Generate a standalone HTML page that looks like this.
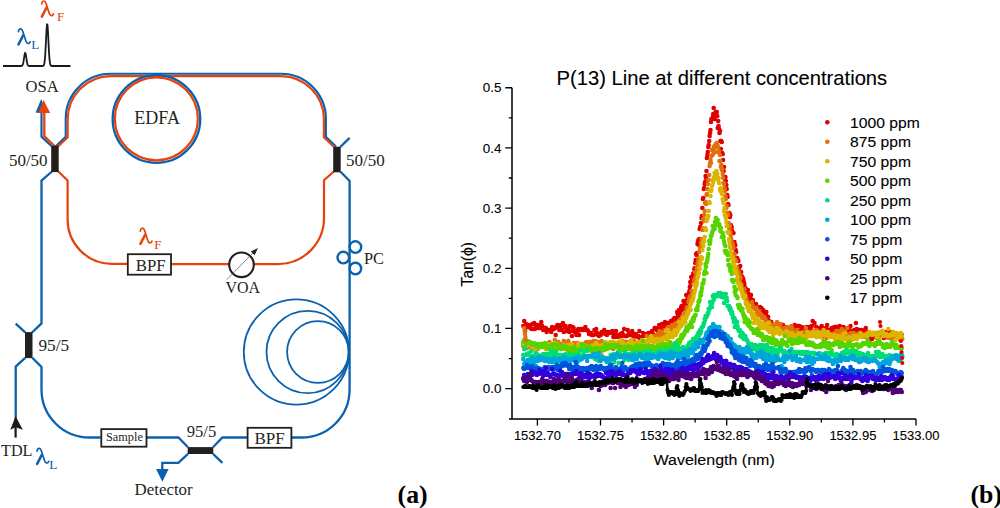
<!DOCTYPE html>
<html><head><meta charset="utf-8"><style>
html,body{margin:0;padding:0;background:#fff;width:1000px;height:508px;overflow:hidden}
svg{display:block}
.s{font-family:"Liberation Serif",serif;fill:#231f1c;stroke:none}
.a{font-family:"Liberation Sans",sans-serif;fill:#000;stroke:#000;stroke-width:0.1px}
</style></head><body>
<svg width="1000" height="508" viewBox="0 0 1000 508">

<polyline points="3.00,66.00 3.50,66.00 4.00,66.00 4.50,66.00 5.00,66.00 5.50,66.00 6.00,66.00 6.50,66.00 7.00,66.00 7.50,66.00 8.00,66.00 8.50,66.00 9.00,66.00 9.50,66.00 10.00,66.00 10.50,66.00 11.00,66.00 11.50,66.00 12.00,66.00 12.50,66.00 13.00,66.00 13.50,66.00 14.00,66.00 14.50,66.00 15.00,66.00 15.50,66.00 16.00,66.00 16.50,66.00 17.00,66.00 17.50,66.00 18.00,66.00 18.50,66.00 19.00,66.00 19.50,66.00 20.00,66.00 20.50,66.00 21.00,65.99 21.50,65.94 22.00,65.76 22.50,65.23 23.00,64.01 23.50,61.73 24.00,58.48 24.50,55.10 25.00,53.00 25.50,53.26 26.00,55.72 26.50,59.18 27.00,62.28 27.50,64.33 28.00,65.38 28.50,65.81 29.00,65.95 29.50,65.99 30.00,66.00 30.50,66.00 31.00,66.00 31.50,66.00 32.00,66.00 32.50,66.00 33.00,66.00 33.50,66.00 34.00,66.00 34.50,66.00 35.00,66.00 35.50,66.00 36.00,66.00 36.50,66.00 37.00,66.00 37.50,66.00 38.00,66.00 38.50,66.00 39.00,66.00 39.50,66.00 40.00,66.00 40.50,66.00 41.00,66.00 41.50,66.00 42.00,66.00 42.50,65.98 43.00,65.91 43.50,65.63 44.00,64.77 44.50,62.60 45.00,58.06 45.50,50.40 46.00,40.24 46.50,30.21 47.00,24.18 47.50,24.90 48.00,32.02 48.50,42.37 49.00,52.18 49.50,59.20 50.00,63.19 50.50,65.02 51.00,65.71 51.50,65.93 52.00,65.99 52.50,66.00 53.00,66.00 53.50,66.00 54.00,66.00 54.50,66.00 55.00,66.00 55.50,66.00 56.00,66.00 56.50,66.00 57.00,66.00 57.50,66.00 58.00,66.00 58.50,66.00 59.00,66.00 59.50,66.00 60.00,66.00 60.50,66.00 61.00,66.00 61.50,66.00 62.00,66.00 62.50,66.00 63.00,66.00 63.50,66.00 64.00,66.00 64.50,66.00 65.00,66.00 65.50,66.00 66.00,66.00 66.50,66.00 67.00,66.00 67.50,66.00 68.00,66.00 68.50,66.00 69.00,66.00 69.50,66.00 70.00,66.00 70.50,66.00" fill="none" stroke="#1a1a1a" stroke-width="1.8" stroke-linejoin="round"/>
<path d="M55.5,146.5 L65.7,136.8 V118.6 A44.8,44.8 0 0 1 110.5,73.8 H281.1 A44.8,44.8 0 0 1 325.9,118.6 V136.8 L336,146.5" fill="none" stroke="#0a62ae" stroke-width="2.1"/>
<path d="M58,146.5 L67.7,137.2 V119.3 A43.2,43.2 0 0 1 110.9,76.1 H280.7 A43.2,43.2 0 0 1 323.9,119.3 V137.2 L333.8,146.8" fill="none" stroke="#e6420c" stroke-width="2.1"/>
<circle cx="156.45" cy="119" r="43.8" fill="none" stroke="#0a62ae" stroke-width="2.3"/>
<circle cx="156.35" cy="118.8" r="41.5" fill="none" stroke="#e6420c" stroke-width="2.2"/>
<path d="M52,146.5 L41.5,136.7 V110" fill="none" stroke="#0a62ae" stroke-width="2.2"/>
<path d="M41.2,99.1 L35.5,112.8 L47,112.8 Z" fill="#0a62ae"/>
<path d="M55,146.5 L44.3,136.2 V110" fill="none" stroke="#e6420c" stroke-width="2.3"/>
<path d="M43.6,100 L38.1,113 L50.2,113 Z" fill="#e6420c"/>
<path d="M52.5,171 L41.5,180.6 V323.4 L32,332.5" fill="none" stroke="#0a62ae" stroke-width="2.3"/>
<path d="M57.8,171 L67.6,180.4 V219.6 A44.2,44.2 0 0 0 111.8,263.8 H128" fill="none" stroke="#e6420c" stroke-width="2.2"/>
<path d="M171,264.1 H230 M253,264.1 H278 A46,46 0 0 0 324,218.1 V180.2 L333.8,171.5" fill="none" stroke="#e6420c" stroke-width="2.2"/>
<path d="M340.3,147 L349.6,137.9" fill="none" stroke="#0a62ae" stroke-width="2.3"/>
<path d="M340.5,171.8 L349.6,181 V389.5 A48,48 0 0 1 301.6,437.5 H292" fill="none" stroke="#0a62ae" stroke-width="2.3"/>
<path d="M247,437.5 H222.4 L213,447.2 M188,447.2 L178.4,437.5 H147 M100.6,437.5 H89.5 A48,48 0 0 1 41.5,389.5 V366.9 L32.3,357.8" fill="none" stroke="#0a62ae" stroke-width="2.3"/>
<path d="M188,453.8 L178.4,462.8 H162.3 V470 M213,453.8 L222.4,462.8" fill="none" stroke="#0a62ae" stroke-width="2.3"/>
<path d="M156,468.9 L168.6,468.9 L162.4,481.8 Z" fill="#0a62ae"/>
<path d="M25.2,332.3 L15.7,323.6 M25.2,357.8 L15.7,366.6 V420" fill="none" stroke="#0a62ae" stroke-width="2.3"/>
<path d="M15.6,416.3 L10.3,429.8 L15.6,427.2 L22.8,429.8 Z" fill="#1a1a1a"/>
<path d="M15.6,426 V437.6" stroke="#1a1a1a" stroke-width="2.2"/>
<circle cx="355.4" cy="247.1" r="5.8" fill="none" stroke="#0a62ae" stroke-width="2.4"/>
<circle cx="343.3" cy="257.6" r="5.8" fill="none" stroke="#0a62ae" stroke-width="2.4"/>
<circle cx="355.4" cy="268.5" r="5.8" fill="none" stroke="#0a62ae" stroke-width="2.4"/>
<circle cx="296.4" cy="352" r="52.6" fill="none" stroke="#0a62ae" stroke-width="1.8"/>
<circle cx="307.6" cy="352" r="41.1" fill="none" stroke="#0a62ae" stroke-width="1.8"/>
<circle cx="317.9" cy="352" r="30.8" fill="none" stroke="#0a62ae" stroke-width="1.8"/>
<rect x="51.2" y="145.8" width="7.5" height="26.3" fill="#231f1c"/>
<rect x="333.2" y="146.7" width="7.5" height="25.6" fill="#231f1c"/>
<rect x="25" y="332.1" width="7.5" height="26" fill="#231f1c"/>
<rect x="187.7" y="447.1" width="25.6" height="6.9" fill="#231f1c"/>
<rect x="127.8" y="254.2" width="43.2" height="20.5" fill="#fff" stroke="#231f1c" stroke-width="1.8"/>
<rect x="247.6" y="427.8" width="43.8" height="20" fill="#fff" stroke="#231f1c" stroke-width="1.8"/>
<rect x="101.3" y="429.1" width="45.2" height="17.6" fill="#fff" stroke="#231f1c" stroke-width="1.8"/>
<circle cx="241.5" cy="264.8" r="12.3" fill="#fff" stroke="#231f1c" stroke-width="2.1"/>
<path d="M226.8,279.6 L254.5,251.3" stroke="#555" stroke-width="0.7"/>
<path d="M258,248 L250.8,251.6 L254.6,255.2 Z" fill="#231f1c"/>
<text class="s" x="25.60" y="91.90" font-size="16.6">OSA</text>
<text class="s" x="134.30" y="124.30" font-size="18">EDFA</text>
<text class="s" x="8.90" y="165.60" font-size="17">50/50</text>
<text class="s" x="346.00" y="166.00" font-size="17">50/50</text>
<text class="s" x="135.70" y="270.70" font-size="16.8">BPF</text>
<text class="s" x="254.40" y="443.90" font-size="17">BPF</text>
<text class="s" x="225.50" y="292.80" font-size="16">VOA</text>
<text class="s" x="364.00" y="264.00" font-size="16.4">PC</text>
<text class="s" x="38.40" y="351.00" font-size="17.3">95/5</text>
<text class="s" x="186.70" y="436.90" font-size="16.6">95/5</text>
<text class="s" x="106.00" y="440.80" font-size="12.3">Sample</text>
<text class="s" x="1.00" y="456.10" font-size="16.2">TDL</text>
<text class="s" x="134.50" y="494.80" font-size="16.9">Detector</text>
<text class="s" x="397.60" y="502.90" font-size="25.8" font-weight="bold" style="fill:#000">(a)</text>
<text class="s" x="970.50" y="502.90" font-size="25.8" font-weight="bold" style="fill:#000">(b)</text>
<g transform="translate(41.20,17.20)" fill="none" stroke="#e6420c" stroke-linecap="round">
<path d="M0.5,-13.3 C0.9,-16.6 3.6,-17.6 4.9,-13.6 L7.9,-4.2 C8.9,-1 10.9,-0.6 12.2,-3.2" stroke-width="1.7"/>
<path d="M5.3,-9.6 L0.6,-0.6" stroke-width="2.5"/>
</g>
<text class="s" x="57.00" y="20.70" font-size="13.2" style="fill:#e6420c">F</text>
<g transform="translate(17.90,45.00)" fill="none" stroke="#0a62ae" stroke-linecap="round">
<path d="M0.5,-13.3 C0.9,-16.6 3.6,-17.6 4.9,-13.6 L7.9,-4.2 C8.9,-1 10.9,-0.6 12.2,-3.2" stroke-width="1.7"/>
<path d="M5.3,-9.6 L0.6,-0.6" stroke-width="2.5"/>
</g>
<text class="s" x="31.20" y="48.80" font-size="13.2" style="fill:#0a62ae">L</text>
<g transform="translate(139.80,244.40)" fill="none" stroke="#e6420c" stroke-linecap="round">
<path d="M0.5,-13.3 C0.9,-16.6 3.6,-17.6 4.9,-13.6 L7.9,-4.2 C8.9,-1 10.9,-0.6 12.2,-3.2" stroke-width="1.7"/>
<path d="M5.3,-9.6 L0.6,-0.6" stroke-width="2.5"/>
</g>
<text class="s" x="154.20" y="248.70" font-size="13.2" style="fill:#e6420c">F</text>
<g transform="translate(36.50,464.50)" fill="none" stroke="#0a62ae" stroke-linecap="round">
<path d="M0.5,-13.3 C0.9,-16.6 3.6,-17.6 4.9,-13.6 L7.9,-4.2 C8.9,-1 10.9,-0.6 12.2,-3.2" stroke-width="1.7"/>
<path d="M5.3,-9.6 L0.6,-0.6" stroke-width="2.5"/>
</g>
<text class="s" x="49.20" y="468.60" font-size="13.2" style="fill:#0a62ae">L</text>
<path d="M512,87.7 V419 M509,419 H916" fill="none" stroke="#000" stroke-width="1.5"/>
<path d="M505.3,388.65 H512 M505.3,328.47 H512 M505.3,268.29 H512 M505.3,208.11 H512 M505.3,147.93 H512 M505.3,87.75 H512 M508.8,358.56 H512 M508.8,298.38 H512 M508.8,238.20 H512 M508.8,178.02 H512 M508.8,117.84 H512 M537.40,419 V425.6 M600.50,419 V425.6 M663.60,419 V425.6 M726.70,419 V425.6 M789.80,419 V425.6 M852.90,419 V425.6 M916.00,419 V425.6 M568.95,419 V422.4 M632.05,419 V422.4 M695.15,419 V422.4 M758.25,419 V422.4 M821.35,419 V422.4 M884.45,419 V422.4" fill="none" stroke="#000" stroke-width="1.3"/>
<text class="a" x="501.40" y="393.25" font-size="13.4" text-anchor="end">0.0</text>
<text class="a" x="501.40" y="333.07" font-size="13.4" text-anchor="end">0.1</text>
<text class="a" x="501.40" y="272.89" font-size="13.4" text-anchor="end">0.2</text>
<text class="a" x="501.40" y="212.71" font-size="13.4" text-anchor="end">0.3</text>
<text class="a" x="501.40" y="152.53" font-size="13.4" text-anchor="end">0.4</text>
<text class="a" x="501.40" y="92.35" font-size="13.4" text-anchor="end">0.5</text>
<text class="a" x="537.40" y="440.40" font-size="13" text-anchor="middle">1532.70</text>
<text class="a" x="600.50" y="440.40" font-size="13" text-anchor="middle">1532.75</text>
<text class="a" x="663.60" y="440.40" font-size="13" text-anchor="middle">1532.80</text>
<text class="a" x="726.70" y="440.40" font-size="13" text-anchor="middle">1532.85</text>
<text class="a" x="789.80" y="440.40" font-size="13" text-anchor="middle">1532.90</text>
<text class="a" x="852.90" y="440.40" font-size="13" text-anchor="middle">1532.95</text>
<text class="a" x="916.00" y="440.40" font-size="13" text-anchor="middle">1533.00</text>
<text class="a" transform="translate(653.50,464.80) scale(1.061,1)" font-size="15.1">Wavelength (nm)</text>
<text class="a" x="556.50" y="84.90" font-size="20.2">P(13) Line at different concentrations</text>
<text class="a" transform="translate(472.70,264.20) rotate(-90)" font-size="15.7" text-anchor="middle">Tan(&#981;)</text>
<path d="M523.3 326h0M524.2 321h0M525.1 331h0M526.0 324h0M526.9 327h0M527.8 327h0M528.7 325h0M529.6 326h0M530.5 328h0M531.4 329h0M532.3 324h0M533.2 329h0M534.1 323h0M535.0 329h0M535.9 327h0M536.8 325h0M537.7 325h0M538.6 328h0M539.5 328h0M540.4 326h0M541.3 322h0M542.2 326h0M543.1 330h0M544.0 328h0M544.9 328h0M545.8 328h0M546.7 332h0M547.6 330h0M548.5 330h0M549.4 330h0M550.3 330h0M551.2 332h0M552.1 327h0M553.0 328h0M553.9 329h0M554.8 328h0M555.7 335h0M556.6 326h0M557.5 325h0M558.4 328h0M559.3 330h0M560.2 327h0M561.1 325h0M562.0 330h0M562.9 323h0M563.8 332h0M564.7 327h0M565.6 326h0M566.5 331h0M567.4 330h0M568.3 329h0M569.2 332h0M570.1 326h0M571.0 331h0M571.9 336h0M572.8 327h0M573.7 328h0M574.6 332h0M575.5 331h0M576.4 335h0M577.3 333h0M578.2 329h0M579.1 335h0M580.0 330h0M580.9 329h0M581.8 330h0M582.7 329h0M583.6 330h0M584.5 329h0M585.4 327h0M586.3 330h0M587.2 330h0M588.1 331h0M589.0 334h0M589.9 333h0M590.8 333h0M591.7 335h0M592.6 335h0M593.5 335h0M594.4 330h0M595.3 334h0M596.2 329h0M597.1 333h0M598.0 335h0M598.9 336h0M599.8 334h0M600.7 335h0M601.6 332h0M602.5 332h0M603.4 333h0M604.3 330h0M605.2 334h0M606.1 334h0M607.0 335h0M607.9 332h0M608.8 333h0M609.7 332h0M610.6 333h0M611.5 332h0M612.4 331h0M613.3 337h0M614.2 335h0M615.1 337h0M616.0 331h0M616.9 335h0M617.8 337h0M618.7 336h0M619.6 335h0M620.5 334h0M621.4 336h0M622.3 333h0M623.2 335h0M624.1 329h0M625.0 336h0M625.9 336h0M626.8 336h0M627.7 330h0M628.6 334h0M629.5 335h0M630.4 334h0M631.3 333h0M632.2 331h0M633.1 336h0M634.0 334h0M634.9 336h0M635.8 334h0M636.7 336h0M637.6 337h0M638.5 336h0M639.4 331h0M640.3 339h0M641.2 338h0M642.1 337h0M643.0 333h0M643.9 334h0M644.8 334h0M645.7 336h0M646.6 334h0M647.5 336h0M648.4 333h0M649.3 338h0M650.2 333h0M651.1 334h0M652.0 331h0M652.9 334h0M653.8 338h0M654.7 328h0M655.1 328h0M655.6 329h0M656.0 329h0M656.5 330h0M656.9 330h0M657.4 328h0M657.8 329h0M658.3 333h0M658.7 329h0M659.2 325h0M659.6 327h0M660.1 330h0M660.5 331h0M661.0 329h0M661.4 330h0M661.9 324h0M662.3 326h0M662.8 325h0M663.2 325h0M663.7 324h0M664.1 332h0M664.6 325h0M665.0 322h0M665.5 329h0M665.9 327h0M666.4 327h0M666.8 326h0M667.3 324h0M667.7 326h0M668.2 323h0M668.6 326h0M669.1 324h0M669.5 325h0M670.0 325h0M670.4 326h0M670.9 321h0M671.3 329h0M671.8 325h0M672.2 323h0M672.7 322h0M673.1 324h0M673.6 319h0M674.0 319h0M674.5 318h0M674.9 324h0M675.4 320h0M675.8 322h0M676.3 322h0M676.7 320h0M677.2 312h0M677.6 314h0M678.1 316h0M678.5 314h0M679.0 310h0M679.4 311h0M679.9 313h0M680.3 317h0M680.8 311h0M681.2 307h0M681.7 306h0M682.1 308h0M682.6 309h0M683.0 309h0M683.5 301h0M683.9 305h0M684.4 301h0M684.8 302h0M685.3 303h0M685.7 307h0M686.2 295h0M686.6 302h0M687.1 304h0M687.5 298h0M688.0 295h0M688.5 295h0M688.9 293h0M689.4 291h0M689.8 287h0M690.3 282h0M690.7 285h0M691.2 277h0M691.6 281h0M692.1 279h0M692.5 279h0M693.0 274h0M693.4 276h0M693.9 273h0M694.3 269h0M694.8 268h0M695.2 263h0M695.7 260h0M696.1 254h0M696.6 255h0M697.0 253h0M697.5 244h0M697.9 242h0M698.4 240h0M698.8 245h0M699.3 239h0M699.7 229h0M700.2 227h0M700.6 228h0M701.1 223h0M701.5 218h0M702.0 216h0M702.4 208h0M702.9 199h0M703.3 198h0M703.8 189h0M704.2 188h0M704.7 184h0M705.1 182h0M705.6 176h0M706.0 178h0M706.5 171h0M706.9 158h0M707.4 155h0M707.8 152h0M708.3 147h0M708.7 145h0M709.2 141h0M709.6 136h0M710.1 133h0M710.5 130h0M711.0 122h0M711.4 119h0M711.9 119h0M712.3 119h0M712.8 117h0M713.2 114h0M713.7 108h0M714.1 114h0M714.6 119h0M715.0 113h0M715.5 115h0M715.9 112h0M716.4 113h0M716.8 112h0M717.3 116h0M717.7 128h0M718.2 121h0M718.6 126h0M719.1 129h0M719.5 133h0M720.0 131h0M720.4 141h0M720.9 149h0M721.3 141h0M721.8 142h0M722.2 153h0M722.7 154h0M723.1 160h0M723.6 171h0M724.0 167h0M724.5 178h0M724.9 179h0M725.4 177h0M725.8 181h0M726.3 185h0M726.7 189h0M727.2 195h0M727.6 197h0M728.1 204h0M728.5 205h0M729.0 213h0M729.4 213h0M729.9 217h0M730.3 215h0M730.8 225h0M731.2 227h0M731.7 227h0M732.1 231h0M732.6 233h0M733.0 233h0M733.5 233h0M733.9 244h0M734.4 242h0M734.8 246h0M735.3 245h0M735.7 250h0M736.2 252h0M736.6 258h0M737.1 258h0M737.5 259h0M738.0 261h0M738.4 261h0M738.9 269h0M739.3 267h0M739.8 273h0M740.2 266h0M740.7 276h0M741.1 272h0M741.6 276h0M742.0 278h0M742.5 284h0M742.9 278h0M743.4 280h0M743.8 282h0M744.3 284h0M744.7 287h0M745.2 289h0M745.6 289h0M746.1 289h0M746.5 290h0M747.0 293h0M747.4 291h0M747.9 290h0M748.3 295h0M748.8 294h0M749.2 300h0M749.7 298h0M750.1 302h0M750.6 298h0M751.0 295h0M751.5 301h0M751.9 303h0M752.4 309h0M752.8 300h0M753.3 303h0M753.7 305h0M754.2 304h0M754.6 307h0M755.1 306h0M755.5 316h0M756.0 304h0M756.4 309h0M756.9 308h0M757.3 308h0M757.8 308h0M758.2 312h0M758.7 311h0M759.1 314h0M759.6 309h0M760.0 307h0M760.5 310h0M760.9 312h0M761.4 308h0M761.8 315h0M762.3 313h0M762.7 315h0M763.2 310h0M763.6 315h0M764.1 313h0M764.5 312h0M765.0 316h0M765.4 316h0M765.9 317h0M766.3 312h0M766.8 316h0M767.2 318h0M767.7 317h0M768.1 317h0M768.6 322h0M769.0 321h0M769.5 322h0M769.9 322h0M770.4 325h0M770.8 330h0M771.3 322h0M771.7 324h0M772.2 326h0M772.6 328h0M773.1 332h0M773.5 327h0M774.0 328h0M774.4 327h0M774.9 326h0M775.8 325h0M776.7 325h0M777.6 324h0M778.5 332h0M779.4 329h0M780.3 326h0M781.2 330h0M782.1 328h0M783.0 325h0M783.9 331h0M784.8 327h0M785.7 329h0M786.6 332h0M787.5 331h0M788.4 329h0M789.3 331h0M790.2 330h0M791.1 327h0M792.0 327h0M792.9 328h0M793.8 329h0M794.7 325h0M795.6 327h0M796.5 329h0M797.4 326h0M798.3 326h0M799.2 326h0M800.1 331h0M801.0 327h0M801.9 327h0M802.8 328h0M803.7 328h0M804.6 328h0M805.5 330h0M806.4 327h0M807.3 332h0M808.2 328h0M809.1 327h0M810.0 328h0M810.9 328h0M811.8 326h0M812.7 321h0M813.6 333h0M814.5 323h0M815.4 332h0M816.3 327h0M817.2 335h0M818.1 330h0M819.0 329h0M819.9 328h0M820.8 333h0M821.7 326h0M822.6 329h0M823.5 328h0M824.4 330h0M825.3 330h0M826.2 328h0M827.1 325h0M828.0 330h0M828.9 330h0M829.8 332h0M830.7 334h0M831.6 328h0M832.5 331h0M833.4 330h0M834.3 327h0M835.2 327h0M836.1 327h0M837.0 327h0M837.9 327h0M838.8 328h0M839.7 326h0M840.6 330h0M841.5 333h0M842.4 330h0M843.3 327h0M844.2 333h0M845.1 330h0M846.0 332h0M846.9 328h0M847.8 331h0M848.7 330h0M849.6 330h0M850.5 326h0M851.4 333h0M852.3 334h0M853.2 331h0M854.1 330h0M855.0 331h0M855.9 323h0M856.8 329h0M857.7 332h0M858.6 333h0M859.5 330h0M860.4 331h0M861.3 330h0M862.2 335h0M863.1 333h0M864.0 331h0M864.9 330h0M865.8 328h0M866.7 333h0M867.6 333h0M868.5 332h0M869.4 333h0M870.3 339h0M871.2 335h0M872.1 339h0M873.0 335h0M873.9 337h0M874.8 335h0M875.7 337h0M876.6 333h0M877.5 335h0M878.4 339h0M879.3 333h0M880.2 333h0M881.1 334h0M882.0 334h0M882.9 333h0M883.8 338h0M884.7 332h0M885.6 333h0M886.5 337h0M887.4 335h0M888.3 332h0M889.2 332h0M890.1 334h0M891.0 335h0M891.9 335h0M892.8 332h0M893.7 333h0M894.6 335h0M895.5 337h0M896.4 335h0M897.3 335h0M898.2 336h0M899.1 337h0M900.0 334h0M900.9 337h0M901.8 335h0" fill="none" stroke="#e00000" stroke-width="4.6" stroke-linecap="round"/>
<path d="M523.3 346h0M524.2 345h0M525.1 346h0M526.0 345h0M526.9 348h0M527.8 347h0M528.7 343h0M529.6 346h0M530.5 345h0M531.4 348h0M532.3 345h0M533.2 347h0M534.1 348h0M535.0 345h0M535.9 345h0M536.8 347h0M537.7 349h0M538.6 345h0M539.5 346h0M540.4 345h0M541.3 344h0M542.2 347h0M543.1 346h0M544.0 346h0M544.9 345h0M545.8 345h0M546.7 345h0M547.6 345h0M548.5 345h0M549.4 342h0M550.3 347h0M551.2 346h0M552.1 351h0M553.0 347h0M553.9 344h0M554.8 340h0M555.7 345h0M556.6 343h0M557.5 346h0M558.4 342h0M559.3 344h0M560.2 345h0M561.1 346h0M562.0 346h0M562.9 344h0M563.8 341h0M564.7 344h0M565.6 345h0M566.5 343h0M567.4 346h0M568.3 341h0M569.2 350h0M570.1 344h0M571.0 345h0M571.9 345h0M572.8 345h0M573.7 343h0M574.6 347h0M575.5 345h0M576.4 346h0M577.3 343h0M578.2 347h0M579.1 345h0M580.0 344h0M580.9 347h0M581.8 346h0M582.7 347h0M583.6 346h0M584.5 344h0M585.4 343h0M586.3 342h0M587.2 343h0M588.1 343h0M589.0 342h0M589.9 342h0M590.8 342h0M591.7 344h0M592.6 344h0M593.5 341h0M594.4 343h0M595.3 341h0M596.2 348h0M597.1 343h0M598.0 342h0M598.9 347h0M599.8 343h0M600.7 343h0M601.6 341h0M602.5 346h0M603.4 345h0M604.3 348h0M605.2 348h0M606.1 346h0M607.0 346h0M607.9 348h0M608.8 347h0M609.7 345h0M610.6 347h0M611.5 346h0M612.4 344h0M613.3 349h0M614.2 346h0M615.1 345h0M616.0 345h0M616.9 344h0M617.8 345h0M618.7 345h0M619.6 344h0M620.5 345h0M621.4 350h0M622.3 341h0M623.2 345h0M624.1 345h0M625.0 342h0M625.9 342h0M626.8 345h0M627.7 345h0M628.6 344h0M629.5 342h0M630.4 347h0M631.3 345h0M632.2 346h0M633.1 346h0M634.0 340h0M634.9 345h0M635.8 345h0M636.7 346h0M637.6 344h0M638.5 345h0M639.4 347h0M640.3 343h0M641.2 346h0M642.1 343h0M643.0 343h0M643.9 342h0M644.8 345h0M645.7 343h0M646.6 336h0M647.5 344h0M648.4 340h0M649.3 338h0M650.2 340h0M651.1 338h0M652.0 338h0M652.9 339h0M653.8 338h0M654.7 336h0M655.6 338h0M656.0 339h0M656.5 335h0M656.9 336h0M657.4 337h0M657.8 334h0M658.3 335h0M658.7 334h0M659.2 337h0M659.6 331h0M660.1 333h0M660.5 334h0M661.0 335h0M661.4 334h0M661.9 332h0M662.3 335h0M662.8 336h0M663.2 333h0M663.7 333h0M664.1 333h0M664.6 333h0M665.0 331h0M665.5 330h0M665.9 332h0M666.4 331h0M666.8 330h0M667.3 328h0M667.7 329h0M668.2 330h0M668.6 327h0M669.1 328h0M669.5 328h0M670.0 330h0M670.4 327h0M670.9 327h0M671.3 328h0M671.8 326h0M672.2 325h0M672.7 330h0M673.1 327h0M673.6 331h0M674.0 327h0M674.5 330h0M674.9 327h0M675.4 324h0M675.8 323h0M676.3 325h0M676.7 323h0M677.2 324h0M677.6 324h0M678.1 325h0M678.5 325h0M679.0 322h0M679.4 320h0M679.9 321h0M680.3 323h0M680.8 320h0M681.2 323h0M681.7 318h0M682.1 317h0M682.6 319h0M683.0 316h0M683.5 317h0M683.9 317h0M684.4 315h0M684.8 313h0M685.3 314h0M685.7 313h0M686.2 311h0M686.6 309h0M687.1 307h0M687.5 309h0M688.0 308h0M688.4 302h0M688.9 301h0M689.4 298h0M689.8 302h0M690.3 296h0M690.7 298h0M691.2 299h0M691.6 291h0M692.1 294h0M692.5 292h0M693.0 291h0M693.4 284h0M693.9 280h0M694.3 284h0M694.8 279h0M695.2 272h0M695.7 276h0M696.1 276h0M696.6 268h0M697.0 269h0M697.5 264h0M697.9 263h0M698.4 260h0M698.8 258h0M699.3 252h0M699.7 251h0M700.2 248h0M700.6 247h0M701.1 243h0M701.5 239h0M702.0 240h0M702.4 230h0M702.9 228h0M703.3 219h0M703.8 221h0M704.2 215h0M704.7 211h0M705.1 203h0M705.6 202h0M706.0 204h0M706.5 195h0M706.9 194h0M707.4 189h0M707.8 184h0M708.3 180h0M708.7 180h0M709.2 175h0M709.6 166h0M710.1 163h0M710.5 160h0M711.0 163h0M711.4 156h0M711.9 150h0M712.3 155h0M712.8 150h0M713.2 154h0M713.7 147h0M714.1 149h0M714.6 146h0M715.0 152h0M715.5 145h0M715.9 144h0M716.4 146h0M716.8 143h0M717.3 145h0M717.7 152h0M718.2 147h0M718.6 151h0M719.1 151h0M719.5 161h0M720.0 155h0M720.4 161h0M720.9 167h0M721.3 165h0M721.8 170h0M722.2 169h0M722.7 174h0M723.1 178h0M723.6 183h0M724.0 184h0M724.5 188h0M724.9 191h0M725.4 196h0M725.8 199h0M726.3 208h0M726.7 206h0M727.2 213h0M727.6 213h0M728.1 215h0M728.5 223h0M729.0 224h0M729.4 229h0M729.9 226h0M730.3 232h0M730.8 235h0M731.2 239h0M731.7 242h0M732.1 243h0M732.6 244h0M733.0 246h0M733.5 248h0M733.9 255h0M734.4 254h0M734.8 259h0M735.3 260h0M735.7 261h0M736.2 261h0M736.6 267h0M737.1 268h0M737.5 270h0M738.0 271h0M738.4 271h0M738.9 273h0M739.3 279h0M739.8 275h0M740.2 283h0M740.7 278h0M741.1 284h0M741.6 285h0M742.0 288h0M742.5 289h0M742.9 295h0M743.4 293h0M743.8 290h0M744.3 289h0M744.7 293h0M745.2 297h0M745.6 296h0M746.1 299h0M746.5 299h0M747.0 301h0M747.4 302h0M747.9 306h0M748.3 303h0M748.8 304h0M749.2 304h0M749.7 304h0M750.1 304h0M750.6 303h0M751.0 309h0M751.5 306h0M751.9 302h0M752.4 305h0M752.8 308h0M753.3 307h0M753.7 307h0M754.2 309h0M754.6 309h0M755.1 309h0M755.5 309h0M756.0 314h0M756.4 308h0M756.9 311h0M757.3 314h0M757.8 311h0M758.2 313h0M758.7 312h0M759.1 311h0M759.6 315h0M760.0 315h0M760.5 314h0M760.9 316h0M761.4 315h0M761.8 317h0M762.3 318h0M762.7 317h0M763.2 317h0M763.6 317h0M764.1 317h0M764.5 319h0M765.0 319h0M765.4 319h0M765.9 321h0M766.3 322h0M766.8 322h0M767.2 324h0M767.7 324h0M768.1 323h0M768.6 325h0M769.0 322h0M769.5 323h0M769.9 325h0M770.4 327h0M770.8 328h0M771.3 326h0M771.7 325h0M772.2 326h0M772.6 329h0M773.1 329h0M773.5 325h0M774.0 325h0M774.4 327h0M774.9 326h0M775.3 328h0M776.2 324h0M777.1 322h0M778.0 325h0M778.9 327h0M779.8 327h0M780.7 324h0M781.6 330h0M782.5 330h0M783.4 329h0M784.3 328h0M785.2 328h0M786.1 329h0M787.0 327h0M787.9 328h0M788.8 330h0M789.7 330h0M790.6 331h0M791.5 326h0M792.4 329h0M793.3 332h0M794.2 338h0M795.1 333h0M796.0 333h0M796.9 330h0M797.8 334h0M798.7 333h0M799.6 334h0M800.5 333h0M801.4 334h0M802.3 335h0M803.2 332h0M804.1 335h0M805.0 333h0M805.9 328h0M806.8 332h0M807.7 333h0M808.6 334h0M809.5 333h0M810.4 332h0M811.3 336h0M812.2 333h0M813.1 331h0M814.0 334h0M814.9 335h0M815.8 334h0M816.7 330h0M817.6 332h0M818.5 332h0M819.4 332h0M820.3 336h0M821.2 337h0M822.1 337h0M823.0 335h0M823.9 333h0M824.8 333h0M825.7 334h0M826.6 338h0M827.5 333h0M828.4 336h0M829.3 335h0M830.2 336h0M831.1 334h0M832.0 335h0M832.9 334h0M833.8 334h0M834.7 333h0M835.6 333h0M836.5 331h0M837.4 334h0M838.3 335h0M839.2 335h0M840.1 331h0M841.0 332h0M841.9 329h0M842.8 333h0M843.7 334h0M844.6 331h0M845.5 333h0M846.4 334h0M847.3 328h0M848.2 337h0M849.1 336h0M850.0 334h0M850.9 333h0M851.8 334h0M852.7 334h0M853.6 333h0M854.5 336h0M855.4 336h0M856.3 334h0M857.2 335h0M858.1 334h0M859.0 334h0M859.9 333h0M860.8 336h0M861.7 337h0M862.6 335h0M863.5 335h0M864.4 336h0M865.3 337h0M866.2 336h0M867.1 333h0M868.0 334h0M868.9 333h0M869.8 334h0M870.7 334h0M871.6 334h0M872.5 333h0M873.4 333h0M874.3 334h0M875.2 333h0M876.1 334h0M877.0 338h0M877.9 335h0M878.8 335h0M879.7 334h0M880.6 335h0M881.5 335h0M882.4 331h0M883.3 335h0M884.2 335h0M885.1 334h0M886.0 336h0M886.9 335h0M887.8 336h0M888.7 338h0M889.6 336h0M890.5 337h0M891.4 338h0M892.3 338h0M893.2 335h0M894.1 345h0M895.0 336h0M895.9 335h0M896.8 336h0M897.7 336h0M898.6 335h0M899.5 338h0M900.4 340h0M901.3 339h0M902.2 339h0" fill="none" stroke="#e0700f" stroke-width="4.6" stroke-linecap="round"/>
<path d="M523.3 344h0M524.2 343h0M525.1 346h0M526.0 346h0M526.9 345h0M527.8 342h0M528.7 345h0M529.6 344h0M530.5 342h0M531.4 349h0M532.3 349h0M533.2 349h0M534.1 346h0M535.0 349h0M535.9 347h0M536.8 348h0M537.7 347h0M538.6 346h0M539.5 346h0M540.4 347h0M541.3 347h0M542.2 347h0M543.1 344h0M544.0 344h0M544.9 345h0M545.8 349h0M546.7 344h0M547.6 346h0M548.5 347h0M549.4 348h0M550.3 345h0M551.2 344h0M552.1 345h0M553.0 346h0M553.9 346h0M554.8 343h0M555.7 343h0M556.6 346h0M557.5 344h0M558.4 348h0M559.3 347h0M560.2 347h0M561.1 347h0M562.0 346h0M562.9 347h0M563.8 345h0M564.7 349h0M565.6 347h0M566.5 346h0M567.4 350h0M568.3 345h0M569.2 348h0M570.1 347h0M571.0 347h0M571.9 344h0M572.8 347h0M573.7 348h0M574.6 347h0M575.5 348h0M576.4 349h0M577.3 348h0M578.2 344h0M579.1 348h0M580.0 347h0M580.9 347h0M581.8 345h0M582.7 347h0M583.6 345h0M584.5 346h0M585.4 348h0M586.3 346h0M587.2 349h0M588.1 348h0M589.0 349h0M589.9 348h0M590.8 347h0M591.7 346h0M592.6 347h0M593.5 347h0M594.4 345h0M595.3 344h0M596.2 343h0M597.1 344h0M598.0 346h0M598.9 347h0M599.8 347h0M600.7 346h0M601.6 352h0M602.5 345h0M603.4 345h0M604.3 345h0M605.2 342h0M606.1 345h0M607.0 345h0M607.9 343h0M608.8 344h0M609.7 344h0M610.6 342h0M611.5 344h0M612.4 344h0M613.3 342h0M614.2 345h0M615.1 345h0M616.0 343h0M616.9 343h0M617.8 343h0M618.7 342h0M619.6 343h0M620.5 342h0M621.4 340h0M622.3 343h0M623.2 343h0M624.1 345h0M625.0 345h0M625.9 345h0M626.8 345h0M627.7 344h0M628.6 343h0M629.5 345h0M630.4 346h0M631.3 340h0M632.2 343h0M633.1 344h0M634.0 345h0M634.9 344h0M635.8 345h0M636.7 343h0M637.6 345h0M638.5 342h0M639.4 344h0M640.3 345h0M641.2 345h0M642.1 340h0M643.0 343h0M643.9 341h0M644.8 342h0M645.7 343h0M646.6 342h0M647.5 341h0M648.4 339h0M649.3 346h0M650.2 341h0M651.1 336h0M652.0 338h0M652.9 345h0M653.8 342h0M654.7 340h0M655.6 341h0M656.0 340h0M656.5 339h0M656.9 341h0M657.4 342h0M657.8 340h0M658.3 339h0M658.7 340h0M659.2 340h0M659.6 342h0M660.1 340h0M660.5 343h0M661.0 341h0M661.4 340h0M661.9 340h0M662.3 343h0M662.8 338h0M663.2 339h0M663.7 339h0M664.1 339h0M664.6 338h0M665.0 337h0M665.5 337h0M665.9 331h0M666.4 339h0M666.8 339h0M667.3 340h0M667.7 330h0M668.2 337h0M668.6 336h0M669.1 335h0M669.5 337h0M670.0 336h0M670.4 336h0M670.9 333h0M671.3 333h0M671.8 334h0M672.2 333h0M672.7 337h0M673.1 333h0M673.6 334h0M674.0 332h0M674.5 335h0M674.9 330h0M675.4 333h0M675.8 335h0M676.3 332h0M676.7 332h0M677.2 332h0M677.6 331h0M678.1 329h0M678.5 328h0M679.0 322h0M679.4 328h0M679.9 326h0M680.3 325h0M680.8 326h0M681.2 326h0M681.7 324h0M682.1 324h0M682.6 322h0M683.0 318h0M683.5 320h0M683.9 323h0M684.4 320h0M684.8 319h0M685.3 322h0M685.7 316h0M686.2 318h0M686.6 317h0M687.1 315h0M687.5 312h0M688.0 314h0M688.4 312h0M688.9 310h0M689.4 309h0M689.8 309h0M690.3 305h0M690.7 310h0M691.2 303h0M691.6 301h0M692.1 300h0M692.5 301h0M693.0 299h0M693.4 297h0M693.9 294h0M694.3 293h0M694.8 285h0M695.2 290h0M695.7 287h0M696.1 285h0M696.6 285h0M697.0 282h0M697.5 278h0M697.9 277h0M698.4 275h0M698.8 273h0M699.3 268h0M699.7 269h0M700.2 262h0M700.6 264h0M701.1 257h0M701.5 259h0M702.0 258h0M702.4 250h0M702.9 243h0M703.3 246h0M703.8 240h0M704.2 241h0M704.7 237h0M705.1 228h0M705.6 229h0M706.0 230h0M706.5 221h0M706.9 220h0M707.4 219h0M707.8 216h0M708.3 216h0M708.7 211h0M709.2 202h0M709.6 203h0M710.1 191h0M710.5 196h0M711.0 191h0M711.4 190h0M711.9 186h0M712.3 185h0M712.8 180h0M713.2 182h0M713.7 179h0M714.1 177h0M714.6 173h0M715.0 173h0M715.5 175h0M715.9 177h0M716.4 171h0M716.8 177h0M717.3 174h0M717.7 179h0M718.2 180h0M718.6 178h0M719.1 183h0M719.5 183h0M720.0 189h0M720.4 191h0M720.9 188h0M721.3 190h0M721.8 194h0M722.2 193h0M722.7 199h0M723.1 201h0M723.6 203h0M724.0 211h0M724.5 208h0M724.9 215h0M725.4 216h0M725.8 218h0M726.3 222h0M726.7 226h0M727.2 226h0M727.6 232h0M728.1 232h0M728.5 233h0M729.0 239h0M729.4 242h0M729.9 246h0M730.3 248h0M730.8 252h0M731.2 256h0M731.7 258h0M732.1 257h0M732.6 257h0M733.0 262h0M733.5 260h0M733.9 265h0M734.4 268h0M734.8 273h0M735.3 267h0M735.7 271h0M736.2 273h0M736.6 273h0M737.1 279h0M737.5 277h0M738.0 282h0M738.4 284h0M738.9 284h0M739.3 285h0M739.8 288h0M740.2 285h0M740.7 287h0M741.1 290h0M741.6 289h0M742.0 292h0M742.5 296h0M742.9 296h0M743.4 295h0M743.8 298h0M744.3 296h0M744.7 297h0M745.2 296h0M745.6 302h0M746.1 304h0M746.5 303h0M747.0 304h0M747.4 307h0M747.9 307h0M748.3 309h0M748.8 311h0M749.2 306h0M749.7 311h0M750.1 310h0M750.6 312h0M751.0 312h0M751.5 311h0M751.9 314h0M752.4 316h0M752.8 318h0M753.3 323h0M753.7 315h0M754.2 315h0M754.6 318h0M755.1 321h0M755.5 320h0M756.0 319h0M756.4 321h0M756.9 318h0M757.3 323h0M757.8 320h0M758.2 324h0M758.7 330h0M759.1 321h0M759.6 328h0M760.0 322h0M760.5 324h0M760.9 324h0M761.4 323h0M761.8 323h0M762.3 328h0M762.7 324h0M763.2 328h0M763.6 327h0M764.1 327h0M764.5 328h0M765.0 328h0M765.4 327h0M765.9 325h0M766.3 324h0M766.8 327h0M767.2 328h0M767.7 330h0M768.1 329h0M768.6 330h0M769.0 323h0M769.5 332h0M769.9 330h0M770.4 329h0M770.8 328h0M771.3 328h0M771.7 332h0M772.2 330h0M772.6 331h0M773.1 335h0M773.5 331h0M774.0 332h0M774.4 332h0M774.9 331h0M775.3 333h0M775.8 331h0M776.7 328h0M777.6 332h0M778.5 329h0M779.4 334h0M780.3 331h0M781.2 332h0M782.1 333h0M783.0 333h0M783.9 333h0M784.8 334h0M785.7 333h0M786.6 331h0M787.5 337h0M788.4 333h0M789.3 334h0M790.2 336h0M791.1 336h0M792.0 333h0M792.9 335h0M793.8 335h0M794.7 336h0M795.6 335h0M796.5 335h0M797.4 339h0M798.3 335h0M799.2 333h0M800.1 336h0M801.0 333h0M801.9 337h0M802.8 336h0M803.7 338h0M804.6 338h0M805.5 336h0M806.4 338h0M807.3 332h0M808.2 335h0M809.1 334h0M810.0 336h0M810.9 336h0M811.8 333h0M812.7 334h0M813.6 332h0M814.5 336h0M815.4 334h0M816.3 337h0M817.2 337h0M818.1 332h0M819.0 333h0M819.9 333h0M820.8 337h0M821.7 335h0M822.6 334h0M823.5 330h0M824.4 331h0M825.3 335h0M826.2 332h0M827.1 334h0M828.0 332h0M828.9 337h0M829.8 337h0M830.7 335h0M831.6 336h0M832.5 337h0M833.4 336h0M834.3 335h0M835.2 339h0M836.1 336h0M837.0 338h0M837.9 336h0M838.8 339h0M839.7 338h0M840.6 339h0M841.5 336h0M842.4 340h0M843.3 334h0M844.2 338h0M845.1 333h0M846.0 338h0M846.9 340h0M847.8 339h0M848.7 337h0M849.6 338h0M850.5 339h0M851.4 340h0M852.3 338h0M853.2 336h0M854.1 339h0M855.0 336h0M855.9 337h0M856.8 339h0M857.7 336h0M858.6 337h0M859.5 335h0M860.4 333h0M861.3 337h0M862.2 335h0M863.1 335h0M864.0 335h0M864.9 335h0M865.8 336h0M866.7 335h0M867.6 334h0M868.5 333h0M869.4 332h0M870.3 333h0M871.2 334h0M872.1 335h0M873.0 334h0M873.9 333h0M874.8 333h0M875.7 333h0M876.6 337h0M877.5 334h0M878.4 334h0M879.3 339h0M880.2 332h0M881.1 333h0M882.0 332h0M882.9 331h0M883.8 336h0M884.7 334h0M885.6 334h0M886.5 334h0M887.4 336h0M888.3 329h0M889.2 336h0M890.1 335h0M891.0 334h0M891.9 335h0M892.8 332h0M893.7 334h0M894.6 335h0M895.5 340h0M896.4 333h0M897.3 336h0M898.2 338h0M899.1 338h0M900.0 337h0M900.9 333h0M901.8 336h0" fill="none" stroke="#ddb400" stroke-width="4.6" stroke-linecap="round"/>
<path d="M523.3 342h0M524.2 340h0M525.1 347h0M526.0 342h0M526.9 343h0M527.8 341h0M528.7 342h0M529.6 342h0M530.5 343h0M531.4 344h0M532.3 344h0M533.2 344h0M534.1 343h0M535.0 345h0M535.9 344h0M536.8 347h0M537.7 344h0M538.6 347h0M539.5 346h0M540.4 345h0M541.3 344h0M542.2 347h0M543.1 345h0M544.0 345h0M544.9 343h0M545.8 347h0M546.7 346h0M547.6 346h0M548.5 349h0M549.4 348h0M550.3 346h0M551.2 346h0M552.1 347h0M553.0 344h0M553.9 345h0M554.8 350h0M555.7 344h0M556.6 350h0M557.5 345h0M558.4 346h0M559.3 348h0M560.2 348h0M561.1 349h0M562.0 346h0M562.9 348h0M563.8 348h0M564.7 346h0M565.6 348h0M566.5 347h0M567.4 349h0M568.3 350h0M569.2 348h0M570.1 351h0M571.0 348h0M571.9 350h0M572.8 351h0M573.7 351h0M574.6 347h0M575.5 358h0M576.4 352h0M577.3 350h0M578.2 352h0M579.1 350h0M580.0 349h0M580.9 348h0M581.8 344h0M582.7 348h0M583.6 351h0M584.5 346h0M585.4 347h0M586.3 348h0M587.2 351h0M588.1 349h0M589.0 346h0M589.9 350h0M590.8 348h0M591.7 351h0M592.6 349h0M593.5 349h0M594.4 351h0M595.3 351h0M596.2 348h0M597.1 349h0M598.0 350h0M598.9 352h0M599.8 351h0M600.7 348h0M601.6 350h0M602.5 348h0M603.4 349h0M604.3 350h0M605.2 344h0M606.1 348h0M607.0 349h0M607.9 347h0M608.8 348h0M609.7 345h0M610.6 348h0M611.5 345h0M612.4 345h0M613.3 347h0M614.2 347h0M615.1 345h0M616.0 347h0M616.9 347h0M617.8 345h0M618.7 348h0M619.6 349h0M620.5 351h0M621.4 349h0M622.3 348h0M623.2 347h0M624.1 347h0M625.0 349h0M625.9 349h0M626.8 349h0M627.7 347h0M628.6 346h0M629.5 347h0M630.4 349h0M631.3 347h0M632.2 350h0M633.1 350h0M634.0 349h0M634.9 350h0M635.8 348h0M636.7 345h0M637.6 349h0M638.5 348h0M639.4 350h0M640.3 347h0M641.2 346h0M642.1 348h0M643.0 341h0M643.9 350h0M644.8 346h0M645.7 348h0M646.6 349h0M647.5 350h0M648.4 347h0M649.3 346h0M650.2 349h0M651.1 347h0M652.0 346h0M652.9 351h0M653.8 349h0M654.7 349h0M655.6 347h0M656.5 351h0M657.4 346h0M657.8 347h0M658.3 347h0M658.7 348h0M659.2 347h0M659.6 345h0M660.1 346h0M660.5 350h0M661.0 348h0M661.4 350h0M661.9 347h0M662.3 345h0M662.8 352h0M663.2 346h0M663.7 344h0M664.1 347h0M664.6 347h0M665.0 346h0M665.5 344h0M665.9 346h0M666.4 346h0M666.8 347h0M667.3 347h0M667.7 347h0M668.2 347h0M668.6 345h0M669.1 346h0M669.5 346h0M670.0 342h0M670.4 347h0M670.9 346h0M671.3 348h0M671.8 346h0M672.2 346h0M672.7 344h0M673.1 346h0M673.6 345h0M674.0 348h0M674.5 346h0M674.9 345h0M675.4 346h0M675.8 349h0M676.3 343h0M676.7 343h0M677.2 342h0M677.6 341h0M678.1 344h0M678.5 340h0M679.0 340h0M679.4 343h0M679.9 340h0M680.3 341h0M680.8 338h0M681.2 336h0M681.7 335h0M682.1 338h0M682.6 337h0M683.0 335h0M683.5 334h0M683.9 335h0M684.4 334h0M684.8 332h0M685.3 331h0M685.7 330h0M686.2 329h0M686.6 327h0M687.1 331h0M687.5 328h0M688.0 329h0M688.4 327h0M688.9 327h0M689.3 325h0M689.8 327h0M690.2 326h0M690.7 325h0M691.1 322h0M691.6 323h0M692.1 327h0M692.5 320h0M693.0 318h0M693.4 321h0M693.9 319h0M694.3 317h0M694.8 316h0M695.2 315h0M695.7 315h0M696.1 310h0M696.6 310h0M697.0 308h0M697.5 310h0M697.9 306h0M698.4 302h0M698.8 302h0M699.3 300h0M699.7 300h0M700.2 296h0M700.6 293h0M701.1 295h0M701.5 291h0M702.0 288h0M702.4 284h0M702.9 284h0M703.3 283h0M703.8 280h0M704.2 274h0M704.7 272h0M705.1 271h0M705.6 264h0M706.0 267h0M706.5 273h0M706.9 262h0M707.4 260h0M707.8 257h0M708.3 254h0M708.7 249h0M709.2 241h0M709.6 244h0M710.1 243h0M710.5 240h0M711.0 236h0M711.4 236h0M711.9 234h0M712.3 232h0M712.8 226h0M713.2 230h0M713.7 226h0M714.1 228h0M714.6 229h0M715.0 222h0M715.5 222h0M715.9 218h0M716.4 222h0M716.8 225h0M717.3 224h0M717.7 220h0M718.2 224h0M718.6 225h0M719.1 224h0M719.5 225h0M720.0 228h0M720.4 231h0M720.9 228h0M721.3 232h0M721.8 237h0M722.2 237h0M722.7 233h0M723.1 235h0M723.6 237h0M724.0 241h0M724.5 244h0M724.9 251h0M725.4 246h0M725.8 253h0M726.3 251h0M726.7 253h0M727.2 253h0M727.6 255h0M728.1 260h0M728.5 265h0M729.0 265h0M729.4 265h0M729.9 268h0M730.3 271h0M730.8 267h0M731.2 271h0M731.7 274h0M732.1 280h0M732.6 281h0M733.0 280h0M733.5 282h0M733.9 281h0M734.4 287h0M734.8 292h0M735.3 289h0M735.7 295h0M736.2 290h0M736.6 296h0M737.1 297h0M737.5 298h0M738.0 305h0M738.4 306h0M738.9 308h0M739.3 305h0M739.8 305h0M740.2 307h0M740.7 310h0M741.1 308h0M741.6 310h0M742.0 311h0M742.5 309h0M742.9 313h0M743.4 315h0M743.8 315h0M744.3 318h0M744.7 322h0M745.2 317h0M745.6 320h0M746.1 319h0M746.5 319h0M747.0 320h0M747.4 324h0M747.9 320h0M748.3 323h0M748.8 326h0M749.2 326h0M749.7 322h0M750.1 327h0M750.6 328h0M751.0 328h0M751.5 329h0M751.9 329h0M752.4 329h0M752.8 330h0M753.3 330h0M753.7 333h0M754.2 331h0M754.6 332h0M755.1 332h0M755.5 333h0M756.0 331h0M756.4 332h0M756.9 333h0M757.3 329h0M757.8 335h0M758.2 332h0M758.7 333h0M759.1 333h0M759.6 334h0M760.0 334h0M760.5 335h0M760.9 336h0M761.4 334h0M761.8 334h0M762.3 337h0M762.7 336h0M763.2 340h0M763.6 339h0M764.1 340h0M764.5 338h0M765.0 339h0M765.4 339h0M765.9 339h0M766.3 337h0M766.8 337h0M767.2 339h0M767.7 338h0M768.1 339h0M768.6 341h0M769.0 339h0M769.5 338h0M769.9 340h0M770.4 342h0M770.8 339h0M771.3 339h0M771.7 343h0M772.2 339h0M772.6 339h0M773.1 342h0M773.5 339h0M774.0 342h0M774.4 343h0M774.9 341h0M775.3 340h0M775.8 345h0M776.2 342h0M776.7 341h0M777.6 344h0M778.5 343h0M779.4 345h0M780.3 344h0M781.2 346h0M782.1 340h0M783.0 344h0M783.9 342h0M784.8 336h0M785.7 343h0M786.6 345h0M787.5 346h0M788.4 341h0M789.3 341h0M790.2 339h0M791.1 342h0M792.0 344h0M792.9 342h0M793.8 343h0M794.7 340h0M795.6 341h0M796.5 343h0M797.4 341h0M798.3 343h0M799.2 338h0M800.1 339h0M801.0 340h0M801.9 342h0M802.8 340h0M803.7 340h0M804.6 340h0M805.5 343h0M806.4 345h0M807.3 344h0M808.2 343h0M809.1 342h0M810.0 345h0M810.9 344h0M811.8 343h0M812.7 343h0M813.6 346h0M814.5 345h0M815.4 347h0M816.3 346h0M817.2 347h0M818.1 346h0M819.0 346h0M819.9 345h0M820.8 347h0M821.7 344h0M822.6 345h0M823.5 341h0M824.4 346h0M825.3 342h0M826.2 344h0M827.1 347h0M828.0 348h0M828.9 343h0M829.8 346h0M830.7 344h0M831.6 350h0M832.5 345h0M833.4 345h0M834.3 343h0M835.2 344h0M836.1 344h0M837.0 342h0M837.9 344h0M838.8 342h0M839.7 347h0M840.6 346h0M841.5 343h0M842.4 344h0M843.3 344h0M844.2 346h0M845.1 345h0M846.0 352h0M846.9 347h0M847.8 344h0M848.7 346h0M849.6 342h0M850.5 346h0M851.4 345h0M852.3 347h0M853.2 350h0M854.1 345h0M855.0 345h0M855.9 345h0M856.8 344h0M857.7 345h0M858.6 347h0M859.5 346h0M860.4 345h0M861.3 346h0M862.2 344h0M863.1 343h0M864.0 344h0M864.9 344h0M865.8 343h0M866.7 344h0M867.6 340h0M868.5 345h0M869.4 346h0M870.3 343h0M871.2 344h0M872.1 344h0M873.0 344h0M873.9 344h0M874.8 346h0M875.7 343h0M876.6 343h0M877.5 344h0M878.4 342h0M879.3 341h0M880.2 343h0M881.1 344h0M882.0 344h0M882.9 347h0M883.8 345h0M884.7 348h0M885.6 347h0M886.5 344h0M887.4 347h0M888.3 345h0M889.2 345h0M890.1 347h0M891.0 346h0M891.9 342h0M892.8 345h0M893.7 344h0M894.6 345h0M895.5 348h0M896.4 345h0M897.3 347h0M898.2 348h0M899.1 348h0M900.0 347h0M900.9 348h0M901.8 348h0" fill="none" stroke="#55d400" stroke-width="4.6" stroke-linecap="round"/>
<path d="M523.3 355h0M524.2 349h0M525.1 349h0M526.0 355h0M526.9 354h0M527.8 354h0M528.7 353h0M529.6 355h0M530.5 358h0M531.4 351h0M532.3 356h0M533.2 356h0M534.1 356h0M535.0 355h0M535.9 353h0M536.8 354h0M537.7 358h0M538.6 355h0M539.5 356h0M540.4 357h0M541.3 356h0M542.2 356h0M543.1 354h0M544.0 356h0M544.9 356h0M545.8 354h0M546.7 355h0M547.6 354h0M548.5 354h0M549.4 354h0M550.3 355h0M551.2 351h0M552.1 354h0M553.0 352h0M553.9 354h0M554.8 358h0M555.7 352h0M556.6 354h0M557.5 355h0M558.4 356h0M559.3 357h0M560.2 355h0M561.1 357h0M562.0 357h0M562.9 355h0M563.8 359h0M564.7 357h0M565.6 354h0M566.5 359h0M567.4 357h0M568.3 358h0M569.2 354h0M570.1 360h0M571.0 359h0M571.9 357h0M572.8 355h0M573.7 356h0M574.6 356h0M575.5 355h0M576.4 355h0M577.3 357h0M578.2 355h0M579.1 354h0M580.0 350h0M580.9 357h0M581.8 356h0M582.7 357h0M583.6 352h0M584.5 356h0M585.4 357h0M586.3 356h0M587.2 350h0M588.1 356h0M589.0 356h0M589.9 356h0M590.8 356h0M591.7 357h0M592.6 355h0M593.5 357h0M594.4 358h0M595.3 359h0M596.2 357h0M597.1 360h0M598.0 359h0M598.9 361h0M599.8 358h0M600.7 358h0M601.6 356h0M602.5 357h0M603.4 358h0M604.3 359h0M605.2 358h0M606.1 361h0M607.0 358h0M607.9 361h0M608.8 358h0M609.7 362h0M610.6 355h0M611.5 358h0M612.4 358h0M613.3 354h0M614.2 362h0M615.1 358h0M616.0 358h0M616.9 355h0M617.8 352h0M618.7 363h0M619.6 357h0M620.5 356h0M621.4 355h0M622.3 357h0M623.2 355h0M624.1 360h0M625.0 352h0M625.9 354h0M626.8 356h0M627.7 356h0M628.6 360h0M629.5 354h0M630.4 357h0M631.3 356h0M632.2 354h0M633.1 354h0M634.0 356h0M634.9 352h0M635.8 353h0M636.7 353h0M637.6 355h0M638.5 353h0M639.4 355h0M640.3 355h0M641.2 353h0M642.1 353h0M643.0 352h0M643.9 357h0M644.8 353h0M645.7 352h0M646.6 352h0M647.5 353h0M648.4 351h0M649.3 354h0M650.2 351h0M651.1 354h0M652.0 355h0M652.9 354h0M653.8 354h0M654.7 354h0M655.6 357h0M656.5 352h0M657.4 353h0M658.3 354h0M658.7 352h0M659.2 352h0M659.6 354h0M660.1 351h0M660.5 350h0M661.0 351h0M661.4 351h0M661.9 352h0M662.3 352h0M662.8 354h0M663.2 354h0M663.7 351h0M664.1 354h0M664.6 354h0M665.0 354h0M665.5 353h0M665.9 349h0M666.4 352h0M666.8 352h0M667.3 350h0M667.7 352h0M668.2 353h0M668.6 355h0M669.1 350h0M669.5 353h0M670.0 352h0M670.4 354h0M670.9 350h0M671.3 351h0M671.8 350h0M672.2 354h0M672.7 351h0M673.1 347h0M673.6 349h0M674.0 346h0M674.5 348h0M674.9 348h0M675.4 343h0M675.8 346h0M676.3 348h0M676.7 351h0M677.2 348h0M677.6 348h0M678.1 347h0M678.5 348h0M679.0 348h0M679.4 348h0M679.9 353h0M680.3 351h0M680.8 350h0M681.2 355h0M681.7 353h0M682.1 353h0M682.6 350h0M683.0 347h0M683.5 352h0M683.9 350h0M684.4 350h0M684.8 350h0M685.3 348h0M685.7 351h0M686.2 350h0M686.6 349h0M687.1 349h0M687.5 346h0M688.0 347h0M688.4 345h0M688.9 350h0M689.3 343h0M689.8 348h0M690.2 347h0M690.7 342h0M691.1 346h0M691.6 345h0M692.0 342h0M692.5 343h0M693.0 339h0M693.4 339h0M693.9 340h0M694.3 341h0M694.8 340h0M695.2 339h0M695.7 340h0M696.1 337h0M696.6 338h0M697.0 336h0M697.5 338h0M697.9 334h0M698.4 336h0M698.8 332h0M699.3 335h0M699.7 333h0M700.2 330h0M700.6 333h0M701.1 331h0M701.5 328h0M702.0 327h0M702.4 327h0M702.9 326h0M703.3 326h0M703.8 323h0M704.2 323h0M704.7 319h0M705.1 320h0M705.6 316h0M706.0 316h0M706.5 317h0M706.9 316h0M707.4 315h0M707.8 313h0M708.3 313h0M708.7 309h0M709.2 310h0M709.6 309h0M710.1 302h0M710.5 306h0M711.0 304h0M711.4 305h0M711.9 307h0M712.3 303h0M712.8 296h0M713.2 297h0M713.7 300h0M714.1 295h0M714.6 297h0M715.0 297h0M715.5 295h0M715.9 295h0M716.4 296h0M716.8 295h0M717.3 296h0M717.7 296h0M718.2 295h0M718.6 293h0M719.1 296h0M719.5 296h0M720.0 295h0M720.4 293h0M720.9 295h0M721.3 295h0M721.8 297h0M722.2 295h0M722.7 294h0M723.1 295h0M723.6 297h0M724.0 303h0M724.5 298h0M724.9 296h0M725.4 298h0M725.8 294h0M726.3 300h0M726.7 298h0M727.2 301h0M727.6 306h0M728.1 306h0M728.5 306h0M729.0 306h0M729.4 309h0M729.9 310h0M730.3 308h0M730.8 310h0M731.2 313h0M731.7 314h0M732.1 312h0M732.6 315h0M733.0 318h0M733.5 319h0M733.9 322h0M734.4 318h0M734.8 327h0M735.3 320h0M735.7 324h0M736.2 324h0M736.6 325h0M737.1 322h0M737.5 326h0M738.0 329h0M738.4 330h0M738.9 331h0M739.3 330h0M739.8 330h0M740.2 336h0M740.7 332h0M741.1 333h0M741.6 337h0M742.0 336h0M742.5 333h0M742.9 334h0M743.4 337h0M743.8 339h0M744.3 336h0M744.7 339h0M745.2 336h0M745.6 338h0M746.1 339h0M746.5 340h0M747.0 340h0M747.4 341h0M747.9 342h0M748.3 346h0M748.8 344h0M749.2 344h0M749.7 347h0M750.1 345h0M750.6 346h0M751.0 345h0M751.5 344h0M751.9 346h0M752.4 349h0M752.8 346h0M753.3 348h0M753.7 346h0M754.2 347h0M754.6 348h0M755.1 345h0M755.5 349h0M756.0 350h0M756.4 348h0M756.9 347h0M757.3 349h0M757.8 346h0M758.2 347h0M758.7 349h0M759.1 347h0M759.6 345h0M760.0 348h0M760.5 348h0M760.9 348h0M761.4 346h0M761.8 348h0M762.3 345h0M762.7 350h0M763.2 347h0M763.6 348h0M764.1 349h0M764.5 348h0M765.0 347h0M765.4 351h0M765.9 349h0M766.3 345h0M766.8 349h0M767.2 345h0M767.7 348h0M768.1 353h0M768.6 352h0M769.0 348h0M769.5 348h0M769.9 349h0M770.4 349h0M770.8 351h0M771.3 352h0M771.7 349h0M772.2 348h0M772.6 354h0M773.1 349h0M773.5 351h0M774.0 350h0M774.4 351h0M774.9 351h0M775.3 353h0M775.8 350h0M776.2 351h0M776.7 351h0M777.1 351h0M777.6 354h0M778.0 352h0M778.9 351h0M779.8 348h0M780.7 348h0M781.6 350h0M782.5 351h0M783.4 353h0M784.3 351h0M785.2 352h0M786.1 353h0M787.0 353h0M787.9 353h0M788.8 352h0M789.7 351h0M790.6 354h0M791.5 349h0M792.4 355h0M793.3 352h0M794.2 355h0M795.1 355h0M796.0 352h0M796.9 353h0M797.8 352h0M798.7 352h0M799.6 352h0M800.5 354h0M801.4 353h0M802.3 352h0M803.2 354h0M804.1 354h0M805.0 352h0M805.9 355h0M806.8 355h0M807.7 352h0M808.6 357h0M809.5 355h0M810.4 354h0M811.3 353h0M812.2 353h0M813.1 353h0M814.0 353h0M814.9 354h0M815.8 354h0M816.7 354h0M817.6 354h0M818.5 354h0M819.4 353h0M820.3 358h0M821.2 355h0M822.1 354h0M823.0 354h0M823.9 356h0M824.8 356h0M825.7 353h0M826.6 355h0M827.5 354h0M828.4 353h0M829.3 355h0M830.2 353h0M831.1 355h0M832.0 353h0M832.9 355h0M833.8 355h0M834.7 356h0M835.6 355h0M836.5 354h0M837.4 355h0M838.3 357h0M839.2 355h0M840.1 356h0M841.0 356h0M841.9 353h0M842.8 354h0M843.7 352h0M844.6 355h0M845.5 351h0M846.4 350h0M847.3 353h0M848.2 351h0M849.1 352h0M850.0 354h0M850.9 356h0M851.8 351h0M852.7 352h0M853.6 352h0M854.5 353h0M855.4 354h0M856.3 351h0M857.2 353h0M858.1 355h0M859.0 354h0M859.9 353h0M860.8 355h0M861.7 357h0M862.6 354h0M863.5 355h0M864.4 356h0M865.3 355h0M866.2 355h0M867.1 356h0M868.0 353h0M868.9 356h0M869.8 356h0M870.7 357h0M871.6 359h0M872.5 356h0M873.4 356h0M874.3 357h0M875.2 356h0M876.1 352h0M877.0 355h0M877.9 356h0M878.8 352h0M879.7 357h0M880.6 354h0M881.5 357h0M882.4 354h0M883.3 356h0M884.2 356h0M885.1 357h0M886.0 357h0M886.9 356h0M887.8 359h0M888.7 356h0M889.6 355h0M890.5 358h0M891.4 357h0M892.3 356h0M893.2 358h0M894.1 358h0M895.0 356h0M895.9 355h0M896.8 357h0M897.7 359h0M898.6 361h0M899.5 357h0M900.4 358h0M901.3 359h0M902.2 356h0" fill="none" stroke="#00dc78" stroke-width="4.6" stroke-linecap="round"/>
<path d="M523.3 359h0M524.2 364h0M525.1 362h0M526.0 362h0M526.9 363h0M527.8 360h0M528.7 363h0M529.6 362h0M530.5 360h0M531.4 362h0M532.3 358h0M533.2 362h0M534.1 362h0M535.0 359h0M535.9 366h0M536.8 361h0M537.7 361h0M538.6 357h0M539.5 357h0M540.4 360h0M541.3 360h0M542.2 359h0M543.1 358h0M544.0 359h0M544.9 361h0M545.8 359h0M546.7 361h0M547.6 361h0M548.5 359h0M549.4 362h0M550.3 359h0M551.2 362h0M552.1 362h0M553.0 362h0M553.9 358h0M554.8 361h0M555.7 361h0M556.6 360h0M557.5 362h0M558.4 361h0M559.3 359h0M560.2 360h0M561.1 360h0M562.0 362h0M562.9 363h0M563.8 357h0M564.7 359h0M565.6 359h0M566.5 358h0M567.4 360h0M568.3 359h0M569.2 360h0M570.1 361h0M571.0 359h0M571.9 360h0M572.8 360h0M573.7 360h0M574.6 358h0M575.5 358h0M576.4 358h0M577.3 362h0M578.2 357h0M579.1 360h0M580.0 360h0M580.9 359h0M581.8 359h0M582.7 358h0M583.6 357h0M584.5 356h0M585.4 357h0M586.3 356h0M587.2 361h0M588.1 357h0M589.0 356h0M589.9 356h0M590.8 356h0M591.7 356h0M592.6 355h0M593.5 354h0M594.4 355h0M595.3 357h0M596.2 356h0M597.1 354h0M598.0 355h0M598.9 353h0M599.8 359h0M600.7 361h0M601.6 358h0M602.5 357h0M603.4 358h0M604.3 359h0M605.2 359h0M606.1 359h0M607.0 362h0M607.9 360h0M608.8 362h0M609.7 359h0M610.6 359h0M611.5 358h0M612.4 356h0M613.3 356h0M614.2 359h0M615.1 355h0M616.0 355h0M616.9 354h0M617.8 355h0M618.7 355h0M619.6 357h0M620.5 356h0M621.4 357h0M622.3 356h0M623.2 356h0M624.1 356h0M625.0 355h0M625.9 358h0M626.8 355h0M627.7 357h0M628.6 356h0M629.5 357h0M630.4 357h0M631.3 356h0M632.2 360h0M633.1 360h0M634.0 355h0M634.9 359h0M635.8 358h0M636.7 359h0M637.6 357h0M638.5 356h0M639.4 363h0M640.3 354h0M641.2 355h0M642.1 358h0M643.0 357h0M643.9 357h0M644.8 357h0M645.7 359h0M646.6 355h0M647.5 354h0M648.4 359h0M649.3 358h0M650.2 355h0M651.1 356h0M652.0 358h0M652.9 355h0M653.8 356h0M654.7 357h0M655.6 357h0M656.0 356h0M656.5 356h0M656.9 356h0M657.4 358h0M657.8 357h0M658.3 359h0M658.7 356h0M659.2 355h0M659.6 353h0M660.1 355h0M660.5 356h0M661.0 354h0M661.4 354h0M661.9 355h0M662.3 354h0M662.8 355h0M663.2 357h0M663.7 355h0M664.1 354h0M664.6 357h0M665.0 358h0M665.5 358h0M665.9 358h0M666.4 354h0M666.8 356h0M667.3 354h0M667.7 358h0M668.2 354h0M668.6 358h0M669.1 359h0M669.5 353h0M670.0 355h0M670.4 353h0M670.9 352h0M671.3 357h0M671.8 355h0M672.2 355h0M672.7 358h0M673.1 355h0M673.6 355h0M674.0 353h0M674.5 354h0M674.9 355h0M675.4 355h0M675.8 354h0M676.3 356h0M676.7 356h0M677.2 354h0M677.6 357h0M678.1 356h0M678.5 354h0M679.0 357h0M679.4 354h0M679.9 357h0M680.3 358h0M680.8 354h0M681.2 356h0M681.7 357h0M682.1 353h0M682.6 356h0M683.0 356h0M683.5 357h0M683.9 357h0M684.4 353h0M684.8 351h0M685.3 352h0M685.7 353h0M686.2 354h0M686.6 358h0M687.1 351h0M687.5 355h0M688.0 357h0M688.4 354h0M688.9 353h0M689.4 352h0M689.8 349h0M690.3 353h0M690.7 352h0M691.2 353h0M691.6 349h0M692.1 352h0M692.5 352h0M693.0 352h0M693.4 350h0M693.9 345h0M694.3 349h0M694.8 355h0M695.2 349h0M695.7 346h0M696.1 343h0M696.6 344h0M697.0 346h0M697.5 346h0M697.9 345h0M698.4 347h0M698.8 343h0M699.3 343h0M699.7 341h0M700.2 342h0M700.6 340h0M701.1 340h0M701.5 341h0M702.0 343h0M702.4 341h0M702.9 340h0M703.3 341h0M703.8 340h0M704.2 339h0M704.7 339h0M705.1 338h0M705.6 338h0M706.0 335h0M706.5 333h0M706.9 333h0M707.4 332h0M707.8 333h0M708.3 332h0M708.7 331h0M709.2 329h0M709.6 328h0M710.1 332h0M710.5 332h0M711.0 330h0M711.4 327h0M711.9 329h0M712.3 327h0M712.8 328h0M713.2 324h0M713.7 333h0M714.1 331h0M714.6 326h0M715.0 330h0M715.5 328h0M715.9 329h0M716.4 328h0M716.8 327h0M717.3 330h0M717.7 328h0M718.2 328h0M718.6 330h0M719.1 331h0M719.5 327h0M720.0 331h0M720.4 331h0M720.9 332h0M721.3 335h0M721.8 332h0M722.2 332h0M722.7 336h0M723.1 334h0M723.6 335h0M724.0 337h0M724.5 336h0M724.9 334h0M725.4 336h0M725.8 335h0M726.3 340h0M726.7 336h0M727.2 340h0M727.6 336h0M728.1 340h0M728.5 338h0M729.0 343h0M729.4 339h0M729.9 340h0M730.3 341h0M730.8 339h0M731.2 345h0M731.7 346h0M732.1 343h0M732.6 347h0M733.0 348h0M733.5 345h0M733.9 346h0M734.4 345h0M734.8 347h0M735.3 346h0M735.7 350h0M736.2 347h0M736.6 350h0M737.1 349h0M737.5 349h0M738.0 349h0M738.4 353h0M738.9 350h0M739.3 347h0M739.8 350h0M740.2 352h0M740.7 351h0M741.1 351h0M741.6 352h0M742.0 349h0M742.5 350h0M742.9 349h0M743.4 356h0M743.8 351h0M744.3 349h0M744.7 353h0M745.2 350h0M745.6 352h0M746.1 351h0M746.5 351h0M747.0 347h0M747.4 352h0M747.9 351h0M748.3 348h0M748.8 352h0M749.2 350h0M749.7 352h0M750.1 353h0M750.6 351h0M751.0 352h0M751.5 356h0M751.9 356h0M752.4 354h0M752.8 357h0M753.3 358h0M753.7 356h0M754.2 356h0M754.6 355h0M755.1 356h0M755.5 355h0M756.0 355h0M756.4 358h0M756.9 356h0M757.3 356h0M757.8 353h0M758.2 355h0M758.7 355h0M759.1 353h0M759.6 353h0M760.0 354h0M760.5 354h0M760.9 357h0M761.4 351h0M761.8 352h0M762.3 355h0M762.7 355h0M763.2 359h0M763.6 355h0M764.1 354h0M764.5 354h0M765.0 357h0M765.4 359h0M765.9 361h0M766.3 359h0M766.8 356h0M767.2 359h0M767.7 357h0M768.1 357h0M768.6 359h0M769.0 355h0M769.5 360h0M769.9 360h0M770.4 360h0M770.8 359h0M771.3 358h0M771.7 363h0M772.2 361h0M772.6 358h0M773.1 362h0M773.5 358h0M774.0 359h0M774.4 358h0M774.9 361h0M775.3 356h0M776.2 360h0M777.1 359h0M778.0 358h0M778.9 360h0M779.8 360h0M780.7 360h0M781.6 366h0M782.5 359h0M783.4 357h0M784.3 362h0M785.2 356h0M786.1 359h0M787.0 359h0M787.9 358h0M788.8 357h0M789.7 351h0M790.6 356h0M791.5 357h0M792.4 360h0M793.3 359h0M794.2 359h0M795.1 359h0M796.0 356h0M796.9 361h0M797.8 361h0M798.7 360h0M799.6 359h0M800.5 362h0M801.4 360h0M802.3 360h0M803.2 360h0M804.1 360h0M805.0 360h0M805.9 357h0M806.8 362h0M807.7 361h0M808.6 362h0M809.5 357h0M810.4 361h0M811.3 358h0M812.2 364h0M813.1 358h0M814.0 362h0M814.9 359h0M815.8 359h0M816.7 359h0M817.6 354h0M818.5 359h0M819.4 358h0M820.3 357h0M821.2 357h0M822.1 359h0M823.0 359h0M823.9 357h0M824.8 355h0M825.7 359h0M826.6 360h0M827.5 358h0M828.4 361h0M829.3 359h0M830.2 361h0M831.1 360h0M832.0 361h0M832.9 364h0M833.8 361h0M834.7 360h0M835.6 362h0M836.5 362h0M837.4 360h0M838.3 361h0M839.2 360h0M840.1 356h0M841.0 361h0M841.9 359h0M842.8 358h0M843.7 358h0M844.6 359h0M845.5 360h0M846.4 359h0M847.3 358h0M848.2 360h0M849.1 358h0M850.0 358h0M850.9 358h0M851.8 356h0M852.7 359h0M853.6 356h0M854.5 358h0M855.4 360h0M856.3 360h0M857.2 360h0M858.1 359h0M859.0 362h0M859.9 362h0M860.8 361h0M861.7 361h0M862.6 359h0M863.5 358h0M864.4 358h0M865.3 358h0M866.2 361h0M867.1 360h0M868.0 362h0M868.9 362h0M869.8 360h0M870.7 361h0M871.6 360h0M872.5 361h0M873.4 360h0M874.3 359h0M875.2 360h0M876.1 361h0M877.0 362h0M877.9 363h0M878.8 364h0M879.7 367h0M880.6 365h0M881.5 364h0M882.4 363h0M883.3 362h0M884.2 364h0M885.1 361h0M886.0 361h0M886.9 363h0M887.8 362h0M888.7 359h0M889.6 364h0M890.5 361h0M891.4 357h0M892.3 359h0M893.2 356h0M894.1 357h0M895.0 357h0M895.9 356h0M896.8 359h0M897.7 356h0M898.6 356h0M899.5 360h0M900.4 355h0M901.3 354h0M902.2 357h0" fill="none" stroke="#00a5dc" stroke-width="4.6" stroke-linecap="round"/>
<path d="M523.3 368h0M524.2 369h0M525.1 368h0M526.0 368h0M526.9 365h0M527.8 368h0M528.7 368h0M529.6 367h0M530.5 368h0M531.4 366h0M532.3 366h0M533.2 369h0M534.1 368h0M535.0 368h0M535.9 368h0M536.8 369h0M537.7 373h0M538.6 368h0M539.5 371h0M540.4 369h0M541.3 372h0M542.2 369h0M543.1 369h0M544.0 369h0M544.9 367h0M545.8 369h0M546.7 371h0M547.6 370h0M548.5 367h0M549.4 369h0M550.3 368h0M551.2 369h0M552.1 367h0M553.0 370h0M553.9 367h0M554.8 368h0M555.7 368h0M556.6 365h0M557.5 370h0M558.4 368h0M559.3 366h0M560.2 368h0M561.1 366h0M562.0 364h0M562.9 366h0M563.8 363h0M564.7 365h0M565.6 363h0M566.5 364h0M567.4 366h0M568.3 365h0M569.2 369h0M570.1 365h0M571.0 367h0M571.9 368h0M572.8 371h0M573.7 367h0M574.6 368h0M575.5 362h0M576.4 365h0M577.3 368h0M578.2 367h0M579.1 369h0M580.0 368h0M580.9 369h0M581.8 373h0M582.7 368h0M583.6 369h0M584.5 370h0M585.4 370h0M586.3 368h0M587.2 371h0M588.1 371h0M589.0 369h0M589.9 367h0M590.8 369h0M591.7 366h0M592.6 369h0M593.5 370h0M594.4 367h0M595.3 367h0M596.2 366h0M597.1 370h0M598.0 369h0M598.9 367h0M599.8 369h0M600.7 366h0M601.6 368h0M602.5 368h0M603.4 369h0M604.3 370h0M605.2 368h0M606.1 369h0M607.0 368h0M607.9 368h0M608.8 368h0M609.7 366h0M610.6 371h0M611.5 365h0M612.4 370h0M613.3 369h0M614.2 370h0M615.1 371h0M616.0 367h0M616.9 371h0M617.8 369h0M618.7 369h0M619.6 369h0M620.5 369h0M621.4 367h0M622.3 363h0M623.2 370h0M624.1 368h0M625.0 367h0M625.9 368h0M626.8 370h0M627.7 369h0M628.6 369h0M629.5 371h0M630.4 371h0M631.3 367h0M632.2 367h0M633.1 366h0M634.0 369h0M634.9 366h0M635.8 364h0M636.7 370h0M637.6 367h0M638.5 364h0M639.4 365h0M640.3 364h0M641.2 366h0M642.1 364h0M643.0 367h0M643.9 363h0M644.8 365h0M645.7 364h0M646.6 366h0M647.5 363h0M648.4 365h0M649.3 363h0M650.2 365h0M651.1 365h0M652.0 367h0M652.9 369h0M653.8 366h0M654.7 369h0M655.6 366h0M656.0 366h0M656.5 365h0M656.9 367h0M657.4 370h0M657.8 368h0M658.3 371h0M658.7 368h0M659.2 370h0M659.6 368h0M660.1 368h0M660.5 367h0M661.0 365h0M661.4 366h0M661.9 368h0M662.3 365h0M662.8 363h0M663.2 365h0M663.7 364h0M664.1 365h0M664.6 367h0M665.0 368h0M665.5 365h0M665.9 365h0M666.4 364h0M666.8 364h0M667.3 367h0M667.7 364h0M668.2 366h0M668.6 365h0M669.1 366h0M669.5 364h0M670.0 366h0M670.4 373h0M670.9 367h0M671.3 366h0M671.8 367h0M672.2 367h0M672.7 365h0M673.1 366h0M673.6 366h0M674.0 367h0M674.5 369h0M674.9 367h0M675.4 367h0M675.8 369h0M676.3 363h0M676.7 368h0M677.2 367h0M677.6 361h0M678.1 365h0M678.5 369h0M679.0 367h0M679.4 368h0M679.9 368h0M680.3 366h0M680.8 363h0M681.2 365h0M681.7 363h0M682.1 367h0M682.6 366h0M683.0 363h0M683.5 367h0M683.9 359h0M684.4 362h0M684.8 365h0M685.3 361h0M685.7 364h0M686.2 365h0M686.6 366h0M687.1 362h0M687.5 363h0M688.0 364h0M688.4 366h0M688.9 363h0M689.4 361h0M689.8 361h0M690.3 364h0M690.7 361h0M691.2 363h0M691.6 360h0M692.1 363h0M692.5 362h0M693.0 359h0M693.4 362h0M693.9 363h0M694.3 360h0M694.8 359h0M695.2 360h0M695.7 358h0M696.1 357h0M696.6 355h0M697.0 357h0M697.5 358h0M697.9 359h0M698.4 358h0M698.8 358h0M699.3 356h0M699.7 354h0M700.2 355h0M700.6 353h0M701.1 355h0M701.5 354h0M702.0 353h0M702.4 350h0M702.9 350h0M703.3 347h0M703.8 346h0M704.2 349h0M704.7 351h0M705.1 347h0M705.6 348h0M706.0 346h0M706.5 345h0M706.9 344h0M707.4 345h0M707.8 339h0M708.3 343h0M708.7 337h0M709.2 340h0M709.6 341h0M710.1 336h0M710.5 335h0M711.0 332h0M711.4 334h0M711.9 335h0M712.3 336h0M712.8 332h0M713.2 333h0M713.7 334h0M714.1 331h0M714.6 337h0M715.0 333h0M715.5 333h0M715.9 336h0M716.4 331h0M716.8 335h0M717.3 332h0M717.7 332h0M718.2 335h0M718.6 334h0M719.1 332h0M719.5 336h0M720.0 336h0M720.4 338h0M720.9 334h0M721.3 335h0M721.8 338h0M722.2 334h0M722.7 337h0M723.1 339h0M723.6 334h0M724.0 338h0M724.5 338h0M724.9 339h0M725.4 339h0M725.8 342h0M726.3 340h0M726.7 343h0M727.2 342h0M727.6 346h0M728.1 344h0M728.5 346h0M729.0 344h0M729.4 345h0M729.9 345h0M730.3 345h0M730.8 348h0M731.2 348h0M731.7 352h0M732.1 350h0M732.6 353h0M733.0 353h0M733.5 351h0M733.9 353h0M734.4 355h0M734.8 351h0M735.3 358h0M735.7 352h0M736.2 355h0M736.6 355h0M737.1 358h0M737.5 355h0M738.0 358h0M738.4 355h0M738.9 360h0M739.3 358h0M739.8 360h0M740.2 359h0M740.7 357h0M741.1 361h0M741.6 356h0M742.0 359h0M742.5 359h0M742.9 362h0M743.4 357h0M743.8 360h0M744.3 361h0M744.7 362h0M745.2 360h0M745.6 361h0M746.1 358h0M746.5 358h0M747.0 362h0M747.4 364h0M747.9 364h0M748.3 364h0M748.8 361h0M749.2 362h0M749.7 362h0M750.1 366h0M750.6 360h0M751.0 361h0M751.5 363h0M751.9 364h0M752.4 362h0M752.8 365h0M753.3 364h0M753.7 364h0M754.2 366h0M754.6 366h0M755.1 365h0M755.5 364h0M756.0 368h0M756.4 367h0M756.9 367h0M757.3 367h0M757.8 371h0M758.2 368h0M758.7 369h0M759.1 366h0M759.6 367h0M760.0 369h0M760.5 367h0M760.9 374h0M761.4 371h0M761.8 369h0M762.3 369h0M762.7 367h0M763.2 370h0M763.6 367h0M764.1 365h0M764.5 366h0M765.0 365h0M765.4 368h0M765.9 364h0M766.3 368h0M766.8 369h0M767.2 368h0M767.7 370h0M768.1 368h0M768.6 366h0M769.0 368h0M769.5 367h0M769.9 367h0M770.4 366h0M770.8 366h0M771.3 368h0M771.7 371h0M772.2 366h0M772.6 364h0M773.1 368h0M773.5 367h0M774.0 368h0M774.4 368h0M774.9 368h0M775.3 368h0M775.8 368h0M776.7 368h0M777.6 368h0M778.5 367h0M779.4 369h0M780.3 372h0M781.2 369h0M782.1 371h0M783.0 371h0M783.9 372h0M784.8 369h0M785.7 369h0M786.6 376h0M787.5 372h0M788.4 372h0M789.3 372h0M790.2 372h0M791.1 375h0M792.0 373h0M792.9 372h0M793.8 373h0M794.7 372h0M795.6 373h0M796.5 373h0M797.4 371h0M798.3 371h0M799.2 369h0M800.1 372h0M801.0 371h0M801.9 370h0M802.8 371h0M803.7 371h0M804.6 373h0M805.5 368h0M806.4 371h0M807.3 369h0M808.2 369h0M809.1 367h0M810.0 369h0M810.9 371h0M811.8 375h0M812.7 369h0M813.6 370h0M814.5 370h0M815.4 371h0M816.3 372h0M817.2 370h0M818.1 370h0M819.0 371h0M819.9 372h0M820.8 371h0M821.7 370h0M822.6 370h0M823.5 373h0M824.4 370h0M825.3 372h0M826.2 374h0M827.1 372h0M828.0 371h0M828.9 369h0M829.8 370h0M830.7 372h0M831.6 371h0M832.5 371h0M833.4 371h0M834.3 372h0M835.2 370h0M836.1 370h0M837.0 370h0M837.9 366h0M838.8 376h0M839.7 377h0M840.6 373h0M841.5 371h0M842.4 370h0M843.3 368h0M844.2 371h0M845.1 370h0M846.0 373h0M846.9 374h0M847.8 371h0M848.7 371h0M849.6 371h0M850.5 367h0M851.4 373h0M852.3 374h0M853.2 370h0M854.1 373h0M855.0 372h0M855.9 372h0M856.8 372h0M857.7 371h0M858.6 372h0M859.5 372h0M860.4 371h0M861.3 374h0M862.2 373h0M863.1 372h0M864.0 372h0M864.9 371h0M865.8 370h0M866.7 371h0M867.6 374h0M868.5 374h0M869.4 376h0M870.3 372h0M871.2 375h0M872.1 373h0M873.0 371h0M873.9 377h0M874.8 374h0M875.7 374h0M876.6 374h0M877.5 373h0M878.4 371h0M879.3 371h0M880.2 371h0M881.1 372h0M882.0 372h0M882.9 367h0M883.8 369h0M884.7 371h0M885.6 371h0M886.5 369h0M887.4 369h0M888.3 371h0M889.2 369h0M890.1 370h0M891.0 371h0M891.9 370h0M892.8 373h0M893.7 372h0M894.6 371h0M895.5 371h0M896.4 372h0M897.3 374h0M898.2 373h0M899.1 374h0M900.0 375h0M900.9 372h0M901.8 373h0" fill="none" stroke="#0055dc" stroke-width="4.6" stroke-linecap="round"/>
<path d="M523.3 379h0M524.2 375h0M525.1 376h0M526.0 377h0M526.9 375h0M527.8 374h0M528.7 376h0M529.6 375h0M530.5 376h0M531.4 371h0M532.3 375h0M533.2 372h0M534.1 372h0M535.0 373h0M535.9 373h0M536.8 375h0M537.7 374h0M538.6 374h0M539.5 370h0M540.4 373h0M541.3 372h0M542.2 374h0M543.1 376h0M544.0 371h0M544.9 374h0M545.8 368h0M546.7 375h0M547.6 373h0M548.5 374h0M549.4 375h0M550.3 377h0M551.2 375h0M552.1 369h0M553.0 374h0M553.9 374h0M554.8 374h0M555.7 375h0M556.6 375h0M557.5 375h0M558.4 377h0M559.3 376h0M560.2 371h0M561.1 375h0M562.0 372h0M562.9 376h0M563.8 374h0M564.7 377h0M565.6 374h0M566.5 374h0M567.4 374h0M568.3 375h0M569.2 376h0M570.1 374h0M571.0 374h0M571.9 375h0M572.8 374h0M573.7 374h0M574.6 373h0M575.5 374h0M576.4 371h0M577.3 373h0M578.2 374h0M579.1 375h0M580.0 378h0M580.9 373h0M581.8 378h0M582.7 376h0M583.6 375h0M584.5 377h0M585.4 377h0M586.3 376h0M587.2 373h0M588.1 377h0M589.0 379h0M589.9 374h0M590.8 377h0M591.7 377h0M592.6 376h0M593.5 376h0M594.4 375h0M595.3 377h0M596.2 374h0M597.1 374h0M598.0 376h0M598.9 375h0M599.8 374h0M600.7 376h0M601.6 375h0M602.5 377h0M603.4 377h0M604.3 379h0M605.2 378h0M606.1 373h0M607.0 373h0M607.9 377h0M608.8 372h0M609.7 375h0M610.6 373h0M611.5 371h0M612.4 375h0M613.3 372h0M614.2 374h0M615.1 374h0M616.0 375h0M616.9 374h0M617.8 372h0M618.7 374h0M619.6 371h0M620.5 374h0M621.4 373h0M622.3 375h0M623.2 374h0M624.1 375h0M625.0 375h0M625.9 376h0M626.8 375h0M627.7 374h0M628.6 381h0M629.5 372h0M630.4 373h0M631.3 370h0M632.2 379h0M633.1 371h0M634.0 370h0M634.9 371h0M635.8 372h0M636.7 371h0M637.6 374h0M638.5 373h0M639.4 374h0M640.3 369h0M641.2 371h0M642.1 372h0M643.0 372h0M643.9 373h0M644.8 373h0M645.7 369h0M646.6 371h0M647.5 372h0M648.4 375h0M649.3 372h0M650.2 371h0M651.1 375h0M652.0 372h0M652.9 373h0M653.8 371h0M654.7 369h0M655.6 371h0M656.0 370h0M656.5 372h0M656.9 371h0M657.4 374h0M657.8 372h0M658.3 375h0M658.7 372h0M659.2 371h0M659.6 371h0M660.1 373h0M660.5 366h0M661.0 371h0M661.4 370h0M661.9 371h0M662.3 372h0M662.8 379h0M663.2 374h0M663.7 373h0M664.1 372h0M664.6 370h0M665.0 373h0M665.5 369h0M665.9 372h0M666.4 370h0M666.8 372h0M667.3 374h0M667.7 370h0M668.2 372h0M668.6 369h0M669.1 372h0M669.5 371h0M670.0 373h0M670.4 371h0M670.9 373h0M671.3 376h0M671.8 372h0M672.2 373h0M672.7 370h0M673.1 370h0M673.6 372h0M674.0 374h0M674.5 375h0M674.9 374h0M675.4 373h0M675.8 373h0M676.3 376h0M676.7 373h0M677.2 374h0M677.6 374h0M678.1 372h0M678.5 371h0M679.0 372h0M679.4 372h0M679.9 372h0M680.3 371h0M680.8 370h0M681.2 369h0M681.7 372h0M682.1 371h0M682.6 368h0M683.0 368h0M683.5 372h0M683.9 372h0M684.4 373h0M684.8 372h0M685.3 370h0M685.7 370h0M686.2 371h0M686.6 370h0M687.1 371h0M687.5 368h0M688.0 369h0M688.4 369h0M688.9 369h0M689.4 369h0M689.8 367h0M690.3 368h0M690.7 367h0M691.2 369h0M691.6 366h0M692.1 366h0M692.5 370h0M693.0 368h0M693.4 370h0M693.9 370h0M694.3 367h0M694.8 365h0M695.2 365h0M695.7 367h0M696.1 368h0M696.6 367h0M697.0 365h0M697.5 366h0M697.9 369h0M698.4 364h0M698.8 367h0M699.3 365h0M699.7 366h0M700.2 365h0M700.6 364h0M701.1 365h0M701.5 362h0M702.0 363h0M702.4 359h0M702.9 360h0M703.3 363h0M703.8 362h0M704.2 361h0M704.7 361h0M705.1 361h0M705.6 360h0M706.0 361h0M706.5 358h0M706.9 357h0M707.4 357h0M707.8 356h0M708.3 355h0M708.7 360h0M709.2 359h0M709.6 358h0M710.1 357h0M710.5 357h0M711.0 359h0M711.4 358h0M711.9 357h0M712.3 357h0M712.8 356h0M713.2 357h0M713.7 357h0M714.1 353h0M714.6 358h0M715.0 358h0M715.5 359h0M715.9 357h0M716.4 356h0M716.8 358h0M717.3 355h0M717.7 360h0M718.2 357h0M718.6 357h0M719.1 359h0M719.5 361h0M720.0 359h0M720.4 357h0M720.9 359h0M721.3 362h0M721.8 361h0M722.2 361h0M722.7 363h0M723.1 361h0M723.6 364h0M724.0 366h0M724.5 369h0M724.9 366h0M725.4 361h0M725.8 361h0M726.3 361h0M726.7 365h0M727.2 365h0M727.6 364h0M728.1 364h0M728.5 368h0M729.0 367h0M729.4 364h0M729.9 366h0M730.3 364h0M730.8 366h0M731.2 365h0M731.7 367h0M732.1 366h0M732.6 368h0M733.0 365h0M733.5 366h0M733.9 367h0M734.4 365h0M734.8 367h0M735.3 372h0M735.7 368h0M736.2 368h0M736.6 367h0M737.1 368h0M737.5 368h0M738.0 371h0M738.4 370h0M738.9 367h0M739.3 369h0M739.8 368h0M740.2 367h0M740.7 367h0M741.1 369h0M741.6 368h0M742.0 370h0M742.5 368h0M742.9 370h0M743.4 370h0M743.8 369h0M744.3 370h0M744.7 371h0M745.2 370h0M745.6 371h0M746.1 373h0M746.5 369h0M747.0 374h0M747.4 374h0M747.9 373h0M748.3 372h0M748.8 371h0M749.2 372h0M749.7 372h0M750.1 373h0M750.6 372h0M751.0 372h0M751.5 374h0M751.9 373h0M752.4 374h0M752.8 374h0M753.3 375h0M753.7 375h0M754.2 375h0M754.6 374h0M755.1 378h0M755.5 375h0M756.0 374h0M756.4 374h0M756.9 375h0M757.3 372h0M757.8 371h0M758.2 375h0M758.7 372h0M759.1 374h0M759.6 373h0M760.0 376h0M760.5 372h0M760.9 378h0M761.4 376h0M761.8 380h0M762.3 379h0M762.7 375h0M763.2 372h0M763.6 376h0M764.1 375h0M764.5 375h0M765.0 374h0M765.4 378h0M765.9 375h0M766.3 376h0M766.8 375h0M767.2 376h0M767.7 376h0M768.1 379h0M768.6 377h0M769.0 375h0M769.5 375h0M769.9 375h0M770.4 376h0M770.8 378h0M771.3 378h0M771.7 376h0M772.2 377h0M772.6 375h0M773.1 378h0M773.5 372h0M774.0 377h0M774.4 376h0M774.9 379h0M775.3 381h0M775.8 377h0M776.7 376h0M777.6 378h0M778.5 377h0M779.4 379h0M780.3 378h0M781.2 376h0M782.1 377h0M783.0 378h0M783.9 381h0M784.8 378h0M785.7 377h0M786.6 376h0M787.5 378h0M788.4 380h0M789.3 378h0M790.2 373h0M791.1 376h0M792.0 376h0M792.9 377h0M793.8 375h0M794.7 376h0M795.6 377h0M796.5 378h0M797.4 377h0M798.3 378h0M799.2 377h0M800.1 380h0M801.0 380h0M801.9 378h0M802.8 377h0M803.7 377h0M804.6 378h0M805.5 381h0M806.4 377h0M807.3 378h0M808.2 379h0M809.1 378h0M810.0 384h0M810.9 380h0M811.8 378h0M812.7 378h0M813.6 377h0M814.5 379h0M815.4 380h0M816.3 377h0M817.2 380h0M818.1 377h0M819.0 376h0M819.9 379h0M820.8 377h0M821.7 378h0M822.6 376h0M823.5 379h0M824.4 375h0M825.3 376h0M826.2 374h0M827.1 378h0M828.0 378h0M828.9 374h0M829.8 378h0M830.7 376h0M831.6 377h0M832.5 377h0M833.4 376h0M834.3 377h0M835.2 379h0M836.1 376h0M837.0 378h0M837.9 373h0M838.8 377h0M839.7 378h0M840.6 380h0M841.5 373h0M842.4 378h0M843.3 379h0M844.2 377h0M845.1 375h0M846.0 379h0M846.9 377h0M847.8 379h0M848.7 377h0M849.6 377h0M850.5 375h0M851.4 382h0M852.3 379h0M853.2 377h0M854.1 377h0M855.0 377h0M855.9 378h0M856.8 377h0M857.7 377h0M858.6 374h0M859.5 378h0M860.4 379h0M861.3 379h0M862.2 381h0M863.1 378h0M864.0 380h0M864.9 379h0M865.8 375h0M866.7 376h0M867.6 381h0M868.5 379h0M869.4 377h0M870.3 376h0M871.2 376h0M872.1 376h0M873.0 379h0M873.9 379h0M874.8 378h0M875.7 380h0M876.6 378h0M877.5 378h0M878.4 380h0M879.3 380h0M880.2 377h0M881.1 376h0M882.0 380h0M882.9 378h0M883.8 379h0M884.7 377h0M885.6 379h0M886.5 378h0M887.4 380h0M888.3 378h0M889.2 380h0M890.1 379h0M891.0 376h0M891.9 375h0M892.8 376h0M893.7 379h0M894.6 379h0M895.5 379h0M896.4 381h0M897.3 379h0M898.2 378h0M899.1 375h0M900.0 377h0M900.9 379h0M901.8 377h0" fill="none" stroke="#3300dc" stroke-width="4.6" stroke-linecap="round"/>
<path d="M523.3 378h0M524.2 381h0M525.1 380h0M526.0 380h0M526.9 382h0M527.8 380h0M528.7 378h0M529.6 380h0M530.5 374h0M531.4 380h0M532.3 381h0M533.2 382h0M534.1 386h0M535.0 382h0M535.9 382h0M536.8 385h0M537.7 383h0M538.6 382h0M539.5 382h0M540.4 382h0M541.3 383h0M542.2 379h0M543.1 382h0M544.0 382h0M544.9 381h0M545.8 381h0M546.7 381h0M547.6 381h0M548.5 382h0M549.4 382h0M550.3 383h0M551.2 382h0M552.1 384h0M553.0 382h0M553.9 379h0M554.8 381h0M555.7 380h0M556.6 382h0M557.5 382h0M558.4 384h0M559.3 380h0M560.2 382h0M561.1 382h0M562.0 381h0M562.9 382h0M563.8 381h0M564.7 378h0M565.6 381h0M566.5 379h0M567.4 381h0M568.3 374h0M569.2 381h0M570.1 380h0M571.0 381h0M571.9 378h0M572.8 385h0M573.7 381h0M574.6 382h0M575.5 382h0M576.4 380h0M577.3 381h0M578.2 379h0M579.1 383h0M580.0 381h0M580.9 381h0M581.8 383h0M582.7 382h0M583.6 382h0M584.5 383h0M585.4 386h0M586.3 382h0M587.2 382h0M588.1 384h0M589.0 384h0M589.9 384h0M590.8 383h0M591.7 388h0M592.6 383h0M593.5 384h0M594.4 383h0M595.3 385h0M596.2 383h0M597.1 383h0M598.0 384h0M598.9 390h0M599.8 384h0M600.7 386h0M601.6 383h0M602.5 385h0M603.4 385h0M604.3 383h0M605.2 385h0M606.1 382h0M607.0 383h0M607.9 383h0M608.8 382h0M609.7 382h0M610.6 388h0M611.5 381h0M612.4 383h0M613.3 383h0M614.2 381h0M615.1 388h0M616.0 380h0M616.9 381h0M617.8 383h0M618.7 383h0M619.6 382h0M620.5 387h0M621.4 384h0M622.3 385h0M623.2 385h0M624.1 380h0M625.0 386h0M625.9 387h0M626.8 382h0M627.7 384h0M628.6 385h0M629.5 382h0M630.4 383h0M631.3 384h0M632.2 382h0M633.1 383h0M634.0 384h0M634.9 387h0M635.8 383h0M636.7 385h0M637.6 382h0M638.5 381h0M639.4 380h0M640.3 381h0M641.2 381h0M642.1 381h0M643.0 381h0M643.9 382h0M644.8 379h0M645.7 380h0M646.6 380h0M647.5 378h0M648.4 381h0M649.3 380h0M650.2 380h0M651.1 377h0M652.0 379h0M652.9 377h0M653.8 372h0M654.7 377h0M655.6 376h0M656.0 376h0M656.5 379h0M656.9 371h0M657.4 380h0M657.8 379h0M658.3 376h0M658.7 375h0M659.2 376h0M659.6 376h0M660.1 376h0M660.5 375h0M661.0 376h0M661.4 373h0M661.9 377h0M662.3 375h0M662.8 380h0M663.2 375h0M663.7 377h0M664.1 379h0M664.6 380h0M665.0 377h0M665.5 378h0M665.9 377h0M666.4 381h0M666.8 376h0M667.3 381h0M667.7 378h0M668.2 380h0M668.6 381h0M669.1 381h0M669.5 379h0M670.0 378h0M670.4 379h0M670.9 379h0M671.3 378h0M671.8 379h0M672.2 378h0M672.7 379h0M673.1 378h0M673.6 377h0M674.0 379h0M674.5 376h0M674.9 373h0M675.4 377h0M675.8 378h0M676.3 375h0M676.7 374h0M677.2 375h0M677.6 376h0M678.1 374h0M678.5 380h0M679.0 374h0M679.4 376h0M679.9 373h0M680.3 376h0M680.8 375h0M681.2 376h0M681.7 375h0M682.1 376h0M682.6 375h0M683.0 373h0M683.5 374h0M683.9 374h0M684.4 375h0M684.8 377h0M685.3 374h0M685.7 376h0M686.2 378h0M686.6 377h0M687.1 375h0M687.5 376h0M688.0 378h0M688.4 376h0M688.9 374h0M689.4 378h0M689.8 374h0M690.3 376h0M690.7 375h0M691.2 379h0M691.6 376h0M692.1 376h0M692.5 374h0M693.0 376h0M693.4 376h0M693.9 375h0M694.3 376h0M694.8 376h0M695.2 374h0M695.7 374h0M696.1 374h0M696.6 376h0M697.0 374h0M697.5 373h0M697.9 376h0M698.4 374h0M698.8 373h0M699.3 373h0M699.7 374h0M700.2 373h0M700.6 374h0M701.1 374h0M701.5 372h0M702.0 371h0M702.4 370h0M702.9 373h0M703.3 369h0M703.8 374h0M704.2 372h0M704.7 373h0M705.1 373h0M705.6 378h0M706.0 370h0M706.5 373h0M706.9 373h0M707.4 373h0M707.8 374h0M708.3 372h0M708.7 374h0M709.2 370h0M709.6 372h0M710.1 371h0M710.5 369h0M711.0 367h0M711.4 372h0M711.9 372h0M712.3 370h0M712.8 368h0M713.2 368h0M713.7 366h0M714.1 369h0M714.6 368h0M715.0 367h0M715.5 369h0M715.9 368h0M716.4 367h0M716.8 362h0M717.3 368h0M717.7 366h0M718.2 370h0M718.6 370h0M719.1 366h0M719.5 368h0M720.0 370h0M720.4 368h0M720.9 371h0M721.3 369h0M721.8 370h0M722.2 370h0M722.7 371h0M723.1 372h0M723.6 370h0M724.0 370h0M724.5 370h0M724.9 368h0M725.4 371h0M725.8 374h0M726.3 370h0M726.7 371h0M727.2 373h0M727.6 371h0M728.1 371h0M728.5 373h0M729.0 374h0M729.4 369h0M729.9 374h0M730.3 374h0M730.8 375h0M731.2 374h0M731.7 373h0M732.1 375h0M732.6 374h0M733.0 375h0M733.5 372h0M733.9 376h0M734.4 374h0M734.8 373h0M735.3 377h0M735.7 374h0M736.2 374h0M736.6 377h0M737.1 379h0M737.5 375h0M738.0 375h0M738.4 375h0M738.9 375h0M739.3 375h0M739.8 375h0M740.2 371h0M740.7 374h0M741.1 373h0M741.6 375h0M742.0 375h0M742.5 372h0M742.9 374h0M743.4 373h0M743.8 374h0M744.3 374h0M744.7 373h0M745.2 375h0M745.6 373h0M746.1 374h0M746.5 374h0M747.0 375h0M747.4 377h0M747.9 375h0M748.3 376h0M748.8 375h0M749.2 373h0M749.7 375h0M750.1 375h0M750.6 373h0M751.0 375h0M751.5 373h0M751.9 375h0M752.4 375h0M752.8 375h0M753.3 375h0M753.7 376h0M754.2 377h0M754.6 375h0M755.1 377h0M755.5 372h0M756.0 378h0M756.4 374h0M756.9 377h0M757.3 375h0M757.8 377h0M758.2 378h0M758.7 378h0M759.1 377h0M759.6 379h0M760.0 379h0M760.5 377h0M760.9 377h0M761.4 380h0M761.8 381h0M762.3 381h0M762.7 378h0M763.2 378h0M763.6 378h0M764.1 379h0M764.5 382h0M765.0 383h0M765.4 381h0M765.9 381h0M766.3 384h0M766.8 383h0M767.2 382h0M767.7 383h0M768.1 384h0M768.6 386h0M769.0 383h0M769.5 386h0M769.9 385h0M770.4 384h0M770.8 386h0M771.3 386h0M771.7 385h0M772.2 387h0M772.6 383h0M773.1 385h0M773.5 386h0M774.0 386h0M774.4 385h0M774.9 381h0M775.3 384h0M775.8 382h0M776.7 383h0M777.6 382h0M778.5 384h0M779.4 383h0M780.3 383h0M781.2 382h0M782.1 383h0M783.0 383h0M783.9 385h0M784.8 383h0M785.7 386h0M786.6 385h0M787.5 383h0M788.4 377h0M789.3 385h0M790.2 383h0M791.1 386h0M792.0 383h0M792.9 387h0M793.8 384h0M794.7 384h0M795.6 385h0M796.5 386h0M797.4 384h0M798.3 384h0M799.2 385h0M800.1 382h0M801.0 383h0M801.9 382h0M802.8 384h0M803.7 382h0M804.6 383h0M805.5 384h0M806.4 386h0M807.3 384h0M808.2 385h0M809.1 385h0M810.0 386h0M810.9 390h0M811.8 385h0M812.7 387h0M813.6 387h0M814.5 387h0M815.4 387h0M816.3 389h0M817.2 387h0M818.1 388h0M819.0 388h0M819.9 388h0M820.8 385h0M821.7 389h0M822.6 388h0M823.5 389h0M824.4 390h0M825.3 386h0M826.2 392h0M827.1 386h0M828.0 381h0M828.9 389h0M829.8 389h0M830.7 389h0M831.6 386h0M832.5 387h0M833.4 387h0M834.3 389h0M835.2 388h0M836.1 386h0M837.0 386h0M837.9 387h0M838.8 385h0M839.7 388h0M840.6 388h0M841.5 383h0M842.4 388h0M843.3 386h0M844.2 386h0M845.1 386h0M846.0 390h0M846.9 387h0M847.8 387h0M848.7 386h0M849.6 385h0M850.5 388h0M851.4 387h0M852.3 388h0M853.2 386h0M854.1 386h0M855.0 386h0M855.9 386h0M856.8 385h0M857.7 387h0M858.6 386h0M859.5 386h0M860.4 388h0M861.3 388h0M862.2 387h0M863.1 393h0M864.0 388h0M864.9 389h0M865.8 392h0M866.7 386h0M867.6 390h0M868.5 390h0M869.4 390h0M870.3 389h0M871.2 387h0M872.1 391h0M873.0 389h0M873.9 390h0M874.8 387h0M875.7 388h0M876.6 387h0M877.5 387h0M878.4 386h0M879.3 386h0M880.2 387h0M881.1 388h0M882.0 387h0M882.9 389h0M883.8 389h0M884.7 388h0M885.6 386h0M886.5 388h0M887.4 388h0M888.3 390h0M889.2 389h0M890.1 389h0M891.0 389h0M891.9 389h0M892.8 393h0M893.7 389h0M894.6 391h0M895.5 392h0M896.4 390h0M897.3 391h0M898.2 392h0M899.1 390h0M900.0 390h0M900.9 390h0M901.8 392h0" fill="none" stroke="#500078" stroke-width="4.6" stroke-linecap="round"/>
<path d="M524.2 328h0M524.6 331h0M525 334h0M525.4 337h0M525.8 340h0" fill="none" stroke="#e0700f" stroke-width="4.4" stroke-linecap="round"/>
<path d="M900.8 341h0M901.3 346h0M901.6 352h0M902 358h0M902.3 363h0M880 322h0M880.5 326h0" fill="none" stroke="#e00000" stroke-width="4.2" stroke-linecap="round"/>
<polyline points="523.3,387 524.0,387 524.7,386 525.4,386 526.1,386 526.8,387 527.5,387 528.2,387 528.9,386 529.6,386 530.3,387 531.0,386 531.7,387 532.4,388 533.1,386 533.8,386 534.5,387 535.2,388 535.9,387 536.6,390 537.3,387 538.0,385 538.7,387 539.4,387 540.1,387 540.8,388 541.5,387 542.2,387 542.9,388 543.6,387 544.3,388 545.0,385 545.7,388 546.4,388 547.1,385 547.8,388 548.5,387 549.2,386 549.9,386 550.6,387 551.3,387 552.0,387 552.7,388 553.4,387 554.1,385 554.8,387 555.5,389 556.2,387 556.9,387 557.6,386 558.3,387 559.0,388 559.7,387 560.4,385 561.1,387 561.8,385 562.5,385 563.2,386 563.9,386 564.6,388 565.3,387 566.0,388 566.7,385 567.4,388 568.1,385 568.8,386 569.5,388 570.2,386 570.9,385 571.6,386 572.3,385 573.0,387 573.7,385 574.4,387 575.1,383 575.8,385 576.5,382 577.2,386 577.9,386 578.6,386 579.3,385 580.0,386 580.7,386 581.4,385 582.1,383 582.8,386 583.5,385 584.2,385 584.9,386 585.6,384 586.3,384 587.0,384 587.7,386 588.4,384 589.1,385 589.8,383 590.5,384 591.2,384 591.9,385 592.6,384 593.3,384 594.0,384 594.7,381 595.4,384 596.1,385 596.8,384 597.5,383 598.2,383 598.9,385 599.6,382 600.3,383 601.0,383 601.7,382 602.4,382 603.1,383 603.8,383 604.5,381 605.2,383 605.9,380 606.6,380 607.3,382 608.0,380 608.7,382 609.4,380 610.1,381 610.8,381 611.5,381 612.2,378 612.9,379 613.6,380 614.3,381 615.0,382 615.7,379 616.4,381 617.1,379 617.8,380 618.5,379 619.2,380 619.9,380 620.6,379 621.3,380 622.0,380 622.7,381 623.4,380 624.1,380 624.8,382 625.5,379 626.2,382 626.9,381 627.6,377 628.3,381 629.0,381 629.7,382 630.4,380 631.1,381 631.8,380 632.5,381 633.2,383 633.9,381 634.6,380 635.3,383 636.0,382 636.7,378 637.4,382 638.1,380 638.8,380 639.5,381 640.2,381 640.9,380 641.6,380 642.3,383 643.0,382 643.7,382 644.4,382 645.1,380 645.8,381 646.5,380 647.2,381 647.9,384 648.6,381 649.3,380 650.0,383 650.7,380 651.4,383 652.1,381 652.8,383 653.5,379 654.2,383 654.9,380 655.6,382 656.3,382 657.0,380 657.7,382 658.4,382 659.1,381 659.8,380 660.5,384 661.2,383 661.9,379 662.6,384 663.3,382 664.0,379 664.7,382 665.4,381 666.1,380 666.8,381 667.5,390 668.2,393 668.9,395 669.6,393 670.3,392 671.0,392 671.7,392 672.4,393 673.1,394 673.8,392 674.5,395 675.2,394 675.9,394 676.6,388 677.3,386 678.0,390 678.7,393 679.4,396 680.1,393 680.8,395 681.5,394 682.2,394 682.9,395 683.6,394 684.3,392 685.0,391 685.7,387 686.4,384 687.1,387 687.8,389 688.5,389 689.2,389 689.9,390 690.6,391 691.3,390 692.0,389 692.7,390 693.4,388 694.1,388 694.8,391 695.5,391 696.2,390 696.9,391 697.6,390 698.3,391 699.0,390 699.7,380 700.4,379 701.1,384 701.8,387 702.5,393 703.2,391 703.9,391 704.6,391 705.3,393 706.0,390 706.7,393 707.4,392 708.1,392 708.8,390 709.5,392 710.2,391 710.9,393 711.6,393 712.3,393 713.0,392 713.7,393 714.4,393 715.1,394 715.8,393 716.5,396 717.2,393 717.9,393 718.6,393 719.3,393 720.0,395 720.7,393 721.4,395 722.1,392 722.8,392 723.5,393 724.2,393 724.9,393 725.6,394 726.3,394 727.0,393 727.7,394 728.4,395 729.1,394 729.8,392 730.5,393 731.2,394 731.9,395 732.6,390 733.3,387 734.0,382 734.7,384 735.4,391 736.1,393 736.8,394 737.5,391 738.2,394 738.9,394 739.6,394 740.3,390 741.0,386 741.7,384 742.4,385 743.1,388 743.8,392 744.5,390 745.2,390 745.9,392 746.6,393 747.3,392 748.0,394 748.7,394 749.4,393 750.1,393 750.8,391 751.5,393 752.2,391 752.9,391 753.6,393 754.3,390 755.0,387 755.7,382 756.4,384 757.1,387 757.8,393 758.5,394 759.2,395 759.9,394 760.6,396 761.3,393 762.0,393 762.7,395 763.4,393 764.1,392 764.8,393 765.5,398 766.2,401 766.9,397 767.6,398 768.3,400 769.0,400 769.7,400 770.4,399 771.1,399 771.8,397 772.5,397 773.2,398 773.9,401 774.6,400 775.3,400 776.0,400 776.7,401 777.4,400 778.1,400 778.8,399 779.5,400 780.2,399 780.9,401 781.6,400 782.3,395 783.0,397 783.7,397 784.4,396 785.1,397 785.8,396 786.5,395 787.2,396 787.9,397 788.6,395 789.3,395 790.0,394 790.7,397 791.4,396 792.1,395 792.8,397 793.5,397 794.2,398 794.9,394 795.6,396 796.3,394 797.0,397 797.7,395 798.4,396 799.1,397 799.8,396 800.5,396 801.2,397 801.9,395 802.6,392 803.3,392 804.0,393 804.7,393 805.4,393 806.1,391 806.8,382 807.5,379 808.2,385 808.9,385 809.6,385 810.3,386 811.0,386 811.7,387 812.4,386 813.1,388 813.8,385 814.5,386 815.2,388 815.9,384 816.6,387 817.3,388 818.0,386 818.7,384 819.4,386 820.1,387 820.8,385 821.5,387 822.2,389 822.9,387 823.6,387 824.3,386 825.0,387 825.7,385 826.4,388 827.1,386 827.8,387 828.5,388 829.2,387 829.9,388 830.6,386 831.3,389 832.0,388 832.7,388 833.4,387 834.1,387 834.8,389 835.5,389 836.2,387 836.9,387 837.6,388 838.3,389 839.0,387 839.7,389 840.4,387 841.1,387 841.8,386 842.5,387 843.2,388 843.9,388 844.6,389 845.3,388 846.0,388 846.7,388 847.4,388 848.1,389 848.8,386 849.5,388 850.2,389 850.9,389 851.6,387 852.3,387 853.0,387 853.7,387 854.4,386 855.1,388 855.8,387 856.5,388 857.2,387 857.9,386 858.6,388 859.3,386 860.0,388 860.7,388 861.4,387 862.1,390 862.8,387 863.5,389 864.2,389 864.9,388 865.6,387 866.3,387 867.0,387 867.7,386 868.4,387 869.1,387 869.8,388 870.5,386 871.2,388 871.9,387 872.6,390 873.3,390 874.0,387 874.7,387 875.4,384 876.1,387 876.8,387 877.5,386 878.2,389 878.9,387 879.6,385 880.3,389 881.0,388 881.7,387 882.4,388 883.1,387 883.8,386 884.5,387 885.2,385 885.9,389 886.6,385 887.3,388 888.0,386 888.7,386 889.4,386 890.1,386 890.8,385 891.5,385 892.2,386 892.9,386 893.6,384 894.3,385 895.0,386 895.7,385 896.4,383 897.1,384 897.8,383 898.5,383 899.2,381 899.9,381 900.6,381 901.3,380 902.0,378" fill="none" stroke="#000" stroke-width="2.6" stroke-linejoin="round"/>
<path d="M523.3 387h0M524.0 387h0M524.7 386h0M525.4 386h0M526.1 386h0M526.8 387h0M527.5 387h0M528.2 387h0M528.9 386h0M529.6 386h0M530.3 387h0M531.0 386h0M531.7 387h0M532.4 388h0M533.1 386h0M533.8 386h0M534.5 387h0M535.2 388h0M535.9 387h0M536.6 390h0M537.3 387h0M538.0 385h0M538.7 387h0M539.4 387h0M540.1 387h0M540.8 388h0M541.5 387h0M542.2 387h0M542.9 388h0M543.6 387h0M544.3 388h0M545.0 385h0M545.7 388h0M546.4 388h0M547.1 385h0M547.8 388h0M548.5 387h0M549.2 386h0M549.9 386h0M550.6 387h0M551.3 387h0M552.0 387h0M552.7 388h0M553.4 387h0M554.1 385h0M554.8 387h0M555.5 389h0M556.2 387h0M556.9 387h0M557.6 386h0M558.3 387h0M559.0 388h0M559.7 387h0M560.4 385h0M561.1 387h0M561.8 385h0M562.5 385h0M563.2 386h0M563.9 386h0M564.6 388h0M565.3 387h0M566.0 388h0M566.7 385h0M567.4 388h0M568.1 385h0M568.8 386h0M569.5 388h0M570.2 386h0M570.9 385h0M571.6 386h0M572.3 385h0M573.0 387h0M573.7 385h0M574.4 387h0M575.1 383h0M575.8 385h0M576.5 382h0M577.2 386h0M577.9 386h0M578.6 386h0M579.3 385h0M580.0 386h0M580.7 386h0M581.4 385h0M582.1 383h0M582.8 386h0M583.5 385h0M584.2 385h0M584.9 386h0M585.6 384h0M586.3 384h0M587.0 384h0M587.7 386h0M588.4 384h0M589.1 385h0M589.8 383h0M590.5 384h0M591.2 384h0M591.9 385h0M592.6 384h0M593.3 384h0M594.0 384h0M594.7 381h0M595.4 384h0M596.1 385h0M596.8 384h0M597.5 383h0M598.2 383h0M598.9 385h0M599.6 382h0M600.3 383h0M601.0 383h0M601.7 382h0M602.4 382h0M603.1 383h0M603.8 383h0M604.5 381h0M605.2 383h0M605.9 380h0M606.6 380h0M607.3 382h0M608.0 380h0M608.7 382h0M609.4 380h0M610.1 381h0M610.8 381h0M611.5 381h0M612.2 378h0M612.9 379h0M613.6 380h0M614.3 381h0M615.0 382h0M615.7 379h0M616.4 381h0M617.1 379h0M617.8 380h0M618.5 379h0M619.2 380h0M619.9 380h0M620.6 379h0M621.3 380h0M622.0 380h0M622.7 381h0M623.4 380h0M624.1 380h0M624.8 382h0M625.5 379h0M626.2 382h0M626.9 381h0M627.6 377h0M628.3 381h0M629.0 381h0M629.7 382h0M630.4 380h0M631.1 381h0M631.8 380h0M632.5 381h0M633.2 383h0M633.9 381h0M634.6 380h0M635.3 383h0M636.0 382h0M636.7 378h0M637.4 382h0M638.1 380h0M638.8 380h0M639.5 381h0M640.2 381h0M640.9 380h0M641.6 380h0M642.3 383h0M643.0 382h0M643.7 382h0M644.4 382h0M645.1 380h0M645.8 381h0M646.5 380h0M647.2 381h0M647.9 384h0M648.6 381h0M649.3 380h0M650.0 383h0M650.7 380h0M651.4 383h0M652.1 381h0M652.8 383h0M653.5 379h0M654.2 383h0M654.9 380h0M655.6 382h0M656.3 382h0M657.0 380h0M657.7 382h0M658.4 382h0M659.1 381h0M659.8 380h0M660.5 384h0M661.2 383h0M661.9 379h0M662.6 384h0M663.3 382h0M664.0 379h0M664.7 382h0M665.4 381h0M666.1 380h0M666.8 381h0M667.5 390h0M668.2 393h0M668.9 395h0M669.6 393h0M670.3 392h0M671.0 392h0M671.7 392h0M672.4 393h0M673.1 394h0M673.8 392h0M674.5 395h0M675.2 394h0M675.9 394h0M676.6 388h0M677.3 386h0M678.0 390h0M678.7 393h0M679.4 396h0M680.1 393h0M680.8 395h0M681.5 394h0M682.2 394h0M682.9 395h0M683.6 394h0M684.3 392h0M685.0 391h0M685.7 387h0M686.4 384h0M687.1 387h0M687.8 389h0M688.5 389h0M689.2 389h0M689.9 390h0M690.6 391h0M691.3 390h0M692.0 389h0M692.7 390h0M693.4 388h0M694.1 388h0M694.8 391h0M695.5 391h0M696.2 390h0M696.9 391h0M697.6 390h0M698.3 391h0M699.0 390h0M699.7 380h0M700.4 379h0M701.1 384h0M701.8 387h0M702.5 393h0M703.2 391h0M703.9 391h0M704.6 391h0M705.3 393h0M706.0 390h0M706.7 393h0M707.4 392h0M708.1 392h0M708.8 390h0M709.5 392h0M710.2 391h0M710.9 393h0M711.6 393h0M712.3 393h0M713.0 392h0M713.7 393h0M714.4 393h0M715.1 394h0M715.8 393h0M716.5 396h0M717.2 393h0M717.9 393h0M718.6 393h0M719.3 393h0M720.0 395h0M720.7 393h0M721.4 395h0M722.1 392h0M722.8 392h0M723.5 393h0M724.2 393h0M724.9 393h0M725.6 394h0M726.3 394h0M727.0 393h0M727.7 394h0M728.4 395h0M729.1 394h0M729.8 392h0M730.5 393h0M731.2 394h0M731.9 395h0M732.6 390h0M733.3 387h0M734.0 382h0M734.7 384h0M735.4 391h0M736.1 393h0M736.8 394h0M737.5 391h0M738.2 394h0M738.9 394h0M739.6 394h0M740.3 390h0M741.0 386h0M741.7 384h0M742.4 385h0M743.1 388h0M743.8 392h0M744.5 390h0M745.2 390h0M745.9 392h0M746.6 393h0M747.3 392h0M748.0 394h0M748.7 394h0M749.4 393h0M750.1 393h0M750.8 391h0M751.5 393h0M752.2 391h0M752.9 391h0M753.6 393h0M754.3 390h0M755.0 387h0M755.7 382h0M756.4 384h0M757.1 387h0M757.8 393h0M758.5 394h0M759.2 395h0M759.9 394h0M760.6 396h0M761.3 393h0M762.0 393h0M762.7 395h0M763.4 393h0M764.1 392h0M764.8 393h0M765.5 398h0M766.2 401h0M766.9 397h0M767.6 398h0M768.3 400h0M769.0 400h0M769.7 400h0M770.4 399h0M771.1 399h0M771.8 397h0M772.5 397h0M773.2 398h0M773.9 401h0M774.6 400h0M775.3 400h0M776.0 400h0M776.7 401h0M777.4 400h0M778.1 400h0M778.8 399h0M779.5 400h0M780.2 399h0M780.9 401h0M781.6 400h0M782.3 395h0M783.0 397h0M783.7 397h0M784.4 396h0M785.1 397h0M785.8 396h0M786.5 395h0M787.2 396h0M787.9 397h0M788.6 395h0M789.3 395h0M790.0 394h0M790.7 397h0M791.4 396h0M792.1 395h0M792.8 397h0M793.5 397h0M794.2 398h0M794.9 394h0M795.6 396h0M796.3 394h0M797.0 397h0M797.7 395h0M798.4 396h0M799.1 397h0M799.8 396h0M800.5 396h0M801.2 397h0M801.9 395h0M802.6 392h0M803.3 392h0M804.0 393h0M804.7 393h0M805.4 393h0M806.1 391h0M806.8 382h0M807.5 379h0M808.2 385h0M808.9 385h0M809.6 385h0M810.3 386h0M811.0 386h0M811.7 387h0M812.4 386h0M813.1 388h0M813.8 385h0M814.5 386h0M815.2 388h0M815.9 384h0M816.6 387h0M817.3 388h0M818.0 386h0M818.7 384h0M819.4 386h0M820.1 387h0M820.8 385h0M821.5 387h0M822.2 389h0M822.9 387h0M823.6 387h0M824.3 386h0M825.0 387h0M825.7 385h0M826.4 388h0M827.1 386h0M827.8 387h0M828.5 388h0M829.2 387h0M829.9 388h0M830.6 386h0M831.3 389h0M832.0 388h0M832.7 388h0M833.4 387h0M834.1 387h0M834.8 389h0M835.5 389h0M836.2 387h0M836.9 387h0M837.6 388h0M838.3 389h0M839.0 387h0M839.7 389h0M840.4 387h0M841.1 387h0M841.8 386h0M842.5 387h0M843.2 388h0M843.9 388h0M844.6 389h0M845.3 388h0M846.0 388h0M846.7 388h0M847.4 388h0M848.1 389h0M848.8 386h0M849.5 388h0M850.2 389h0M850.9 389h0M851.6 387h0M852.3 387h0M853.0 387h0M853.7 387h0M854.4 386h0M855.1 388h0M855.8 387h0M856.5 388h0M857.2 387h0M857.9 386h0M858.6 388h0M859.3 386h0M860.0 388h0M860.7 388h0M861.4 387h0M862.1 390h0M862.8 387h0M863.5 389h0M864.2 389h0M864.9 388h0M865.6 387h0M866.3 387h0M867.0 387h0M867.7 386h0M868.4 387h0M869.1 387h0M869.8 388h0M870.5 386h0M871.2 388h0M871.9 387h0M872.6 390h0M873.3 390h0M874.0 387h0M874.7 387h0M875.4 384h0M876.1 387h0M876.8 387h0M877.5 386h0M878.2 389h0M878.9 387h0M879.6 385h0M880.3 389h0M881.0 388h0M881.7 387h0M882.4 388h0M883.1 387h0M883.8 386h0M884.5 387h0M885.2 385h0M885.9 389h0M886.6 385h0M887.3 388h0M888.0 386h0M888.7 386h0M889.4 386h0M890.1 386h0M890.8 385h0M891.5 385h0M892.2 386h0M892.9 386h0M893.6 384h0M894.3 385h0M895.0 386h0M895.7 385h0M896.4 383h0M897.1 384h0M897.8 383h0M898.5 383h0M899.2 381h0M899.9 381h0M900.6 381h0M901.3 380h0M902.0 378h0" fill="none" stroke="#000" stroke-width="4.2" stroke-linecap="round"/>
<circle cx="827.3" cy="122.20" r="2.3" fill="#e00000"/>
<text class="a" transform="translate(850.00,127.60) scale(1.032,1)" font-size="15.2">1000 ppm</text>
<circle cx="827.3" cy="141.70" r="2.3" fill="#e0700f"/>
<text class="a" transform="translate(850.00,147.10) scale(1.032,1)" font-size="15.2">875 ppm</text>
<circle cx="827.3" cy="161.20" r="2.3" fill="#ddb400"/>
<text class="a" transform="translate(850.00,166.60) scale(1.032,1)" font-size="15.2">750 ppm</text>
<circle cx="827.3" cy="180.70" r="2.3" fill="#55d400"/>
<text class="a" transform="translate(850.00,186.10) scale(1.032,1)" font-size="15.2">500 ppm</text>
<circle cx="827.3" cy="200.20" r="2.3" fill="#00dc78"/>
<text class="a" transform="translate(850.00,205.60) scale(1.032,1)" font-size="15.2">250 ppm</text>
<circle cx="827.3" cy="219.70" r="2.3" fill="#00a5dc"/>
<text class="a" transform="translate(850.00,225.10) scale(1.032,1)" font-size="15.2">100 ppm</text>
<circle cx="827.3" cy="239.20" r="2.3" fill="#0055dc"/>
<text class="a" transform="translate(850.00,244.60) scale(1.032,1)" font-size="15.2">75 ppm</text>
<circle cx="827.3" cy="258.70" r="2.3" fill="#3300dc"/>
<text class="a" transform="translate(850.00,264.10) scale(1.032,1)" font-size="15.2">50 ppm</text>
<circle cx="827.3" cy="278.20" r="2.3" fill="#500078"/>
<text class="a" transform="translate(850.00,283.60) scale(1.032,1)" font-size="15.2">25 ppm</text>
<circle cx="827.3" cy="297.70" r="2.3" fill="#000000"/>
<text class="a" transform="translate(850.00,303.10) scale(1.032,1)" font-size="15.2">17 ppm</text>
</svg></body></html>
